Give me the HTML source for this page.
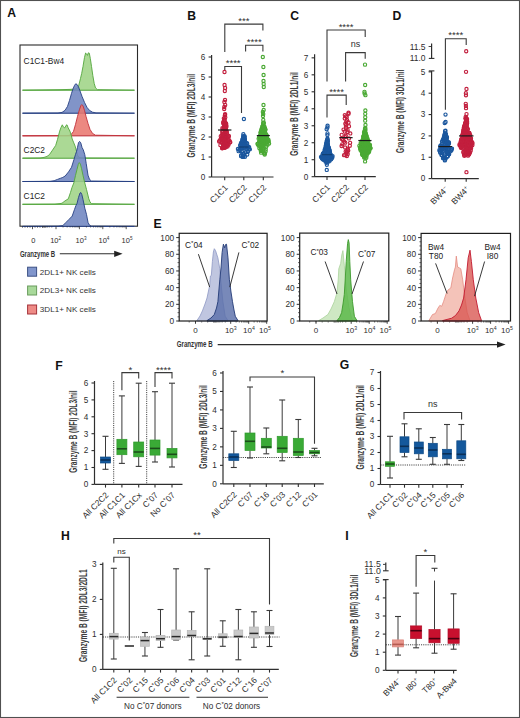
<!DOCTYPE html>
<html><head><meta charset="utf-8"><style>
html,body{margin:0;padding:0;background:#fff;width:520px;height:718px;overflow:hidden;}
svg{display:block;font-family:"Liberation Sans", sans-serif;}
</style></head><body>
<svg width="520" height="718" viewBox="0 0 520 718" font-family='"Liberation Sans", sans-serif'><rect x="0.5" y="0.5" width="519" height="717" fill="#fff" stroke="#505050" stroke-width="1.1"/>
<text x="7.30" y="17.30" font-size="12.2" text-anchor="start" fill="#111" font-weight="bold" >A</text>
<rect x="20" y="45" width="117.5" height="181.2" fill="none" stroke="#2a2a2a" stroke-width="1.1"/>
<defs><linearGradient id="gG" x1="0" x2="1" y1="0" y2="0"><stop offset="0" stop-color="#7fb86e"/><stop offset="0.55" stop-color="#8fb585"/><stop offset="1" stop-color="#d0d6cf"/></linearGradient><linearGradient id="gB" x1="0" x2="1" y1="0" y2="0"><stop offset="0" stop-color="#4a6196"/><stop offset="0.55" stop-color="#5b6d95"/><stop offset="1" stop-color="#c9ccd6"/></linearGradient><linearGradient id="gR" x1="0" x2="1" y1="0" y2="0"><stop offset="0" stop-color="#c9505a"/><stop offset="0.55" stop-color="#b76a72"/><stop offset="1" stop-color="#d8cccd"/></linearGradient></defs>
<rect x="22.5" y="89.80" width="112" height="0.8" fill="url(#gG)" fill-opacity="0.85"/>
<path d="M22.5,90.2 L60,89.7 L70,89.4 L76,88.9 L78.5,86.4 L80.5,78.4 L81.7,73.4 L83,66.4 L84.5,57.4 L85.6,53.0 L86.6,53.9 L87.5,55.4 L88.3,52.8 L89.3,53.199999999999996 L90.3,58.4 L91.5,66.4 L92.8,75.4 L94.2,83.4 L95.5,87.9 L97.5,89.7 L134.5,90.2 Z" fill="#9fd486" fill-opacity="0.88" stroke="#52a63c" stroke-width="0.9" stroke-linejoin="round"/>
<rect x="22.5" y="112.80" width="112" height="0.8" fill="url(#gB)" fill-opacity="0.85"/>
<path d="M22.5,113.2 L58,113.0 L62,112.4 L65,110.4 L67.5,106.4 L69.5,100.4 L71.5,93.4 L73,88.9 L74.5,85.4 L75.7,83.80000000000001 L77,84.4 L78.5,86.9 L80,90.9 L82,96.4 L84.5,102.4 L87,107.4 L89.5,110.4 L92.5,112.2 L96,112.9 L134.5,113.2 Z" fill="#7085c0" fill-opacity="0.88" stroke="#263f82" stroke-width="0.9" stroke-linejoin="round"/>
<rect x="22.5" y="135.40" width="112" height="0.8" fill="url(#gR)" fill-opacity="0.85"/>
<path d="M22.5,135.8 L68,135.6 L71,134.70000000000002 L73.5,131.4 L75.5,124.4 L77.5,116.4 L79.5,109.4 L81,105.4 L81.8,104.60000000000001 L83,105.9 L84.5,110.4 L86,116.4 L88,123.4 L90,129.4 L92.5,133.4 L95.5,135.20000000000002 L134.5,135.8 Z" fill="#e97870" fill-opacity="0.88" stroke="#c2303a" stroke-width="0.9" stroke-linejoin="round"/>
<rect x="22.5" y="157.80" width="112" height="0.8" fill="url(#gG)" fill-opacity="0.85"/>
<path d="M22.5,158.20000000000002 L40,158.0 L44,157.4 L47,156.4 L49.4,154.70000000000002 L52,150.9 L55.7,145.4 L57.5,139.4 L59.7,131.1 L61,127.4 L62.3,124.80000000000001 L63.5,127.2 L64.8,127.9 L66,125.4 L67,124.80000000000001 L68.2,127.9 L69.9,131.1 L71,134.4 L72.2,139.0 L73.8,142.9 L75.4,146.9 L76.8,152.4 L78,156.4 L80,157.70000000000002 L84,158.0 L134.5,158.20000000000002 Z" fill="#9fd486" fill-opacity="0.88" stroke="#52a63c" stroke-width="0.9" stroke-linejoin="round"/>
<rect x="22.5" y="181.10" width="112" height="0.8" fill="url(#gB)" fill-opacity="0.85"/>
<path d="M22.5,181.5 L50,181.3 L54.2,180.70000000000002 L57.5,179.4 L60.4,178.3 L62.8,177.4 L65.2,176.0 L68.5,171.9 L71.5,167.3 L74,159.4 L75.5,154.4 L76.5,151.6 L77.5,147.4 L78.6,142.4 L79.6,141.4 L80.8,142.9 L82,147.4 L83.3,149.9 L84.8,154.70000000000002 L86.2,163.4 L88,175.20000000000002 L89.5,179.4 L91.5,181.0 L134.5,181.5 Z" fill="#7085c0" fill-opacity="0.88" stroke="#263f82" stroke-width="0.9" stroke-linejoin="round"/>
<rect x="22.5" y="203.90" width="112" height="0.8" fill="url(#gG)" fill-opacity="0.85"/>
<path d="M22.5,204.3 L55,204.1 L60,203.6 L62,203.20000000000002 L65,200.9 L68.3,198.8 L70.5,192.4 L72,187.4 L73.8,183.0 L75.5,175.4 L77,169.4 L78.3,164.4 L79.3,162.6 L80.3,163.9 L81.5,168.4 L83,175.4 L84.8,183.0 L86.5,189.4 L88.8,198.8 L90,201.9 L91.5,203.70000000000002 L134.5,204.3 Z" fill="#9fd486" fill-opacity="0.88" stroke="#52a63c" stroke-width="0.9" stroke-linejoin="round"/>
<rect x="22.5" y="226.00" width="112" height="0.8" fill="url(#gB)" fill-opacity="0.85"/>
<path d="M22.5,226.4 L58,226.20000000000002 L62.8,225.6 L66,222.4 L69,219.4 L72.2,216.1 L74.5,209.4 L76,205.4 L77,203.5 L78.5,197.4 L80,193.0 L80.8,192.5 L81.8,194.4 L83,199.4 L84.8,208.20000000000002 L86.5,214.4 L88,222.4 L89.5,225.20000000000002 L91.5,226.20000000000002 L134.5,226.4 Z" fill="#7085c0" fill-opacity="0.88" stroke="#263f82" stroke-width="0.9" stroke-linejoin="round"/>
<text x="23.60" y="64.40" font-size="8.4" text-anchor="start" fill="#222" font-weight="normal" >C1C1-Bw4</text>
<text x="23.60" y="152.80" font-size="8.4" text-anchor="start" fill="#222" font-weight="normal" >C2C2</text>
<text x="23.60" y="199.10" font-size="8.4" text-anchor="start" fill="#222" font-weight="normal" >C1C2</text>
<line x1="56.00" y1="226.20" x2="56.00" y2="229.20" stroke="#2e2e2e" stroke-width="0.8" />
<line x1="63.04" y1="226.20" x2="63.04" y2="227.52" stroke="#2e2e2e" stroke-width="0.6" />
<line x1="67.16" y1="226.20" x2="67.16" y2="227.52" stroke="#2e2e2e" stroke-width="0.6" />
<line x1="70.09" y1="226.20" x2="70.09" y2="227.52" stroke="#2e2e2e" stroke-width="0.6" />
<line x1="72.36" y1="226.20" x2="72.36" y2="227.52" stroke="#2e2e2e" stroke-width="0.6" />
<line x1="74.21" y1="226.20" x2="74.21" y2="227.52" stroke="#2e2e2e" stroke-width="0.6" />
<line x1="75.78" y1="226.20" x2="75.78" y2="227.52" stroke="#2e2e2e" stroke-width="0.6" />
<line x1="77.13" y1="226.20" x2="77.13" y2="227.52" stroke="#2e2e2e" stroke-width="0.6" />
<line x1="78.33" y1="226.20" x2="78.33" y2="227.52" stroke="#2e2e2e" stroke-width="0.6" />
<line x1="79.40" y1="226.20" x2="79.40" y2="229.20" stroke="#2e2e2e" stroke-width="0.8" />
<line x1="86.44" y1="226.20" x2="86.44" y2="227.52" stroke="#2e2e2e" stroke-width="0.6" />
<line x1="90.56" y1="226.20" x2="90.56" y2="227.52" stroke="#2e2e2e" stroke-width="0.6" />
<line x1="93.49" y1="226.20" x2="93.49" y2="227.52" stroke="#2e2e2e" stroke-width="0.6" />
<line x1="95.76" y1="226.20" x2="95.76" y2="227.52" stroke="#2e2e2e" stroke-width="0.6" />
<line x1="97.61" y1="226.20" x2="97.61" y2="227.52" stroke="#2e2e2e" stroke-width="0.6" />
<line x1="99.18" y1="226.20" x2="99.18" y2="227.52" stroke="#2e2e2e" stroke-width="0.6" />
<line x1="100.53" y1="226.20" x2="100.53" y2="227.52" stroke="#2e2e2e" stroke-width="0.6" />
<line x1="101.73" y1="226.20" x2="101.73" y2="227.52" stroke="#2e2e2e" stroke-width="0.6" />
<line x1="102.80" y1="226.20" x2="102.80" y2="229.20" stroke="#2e2e2e" stroke-width="0.8" />
<line x1="109.84" y1="226.20" x2="109.84" y2="227.52" stroke="#2e2e2e" stroke-width="0.6" />
<line x1="113.96" y1="226.20" x2="113.96" y2="227.52" stroke="#2e2e2e" stroke-width="0.6" />
<line x1="116.89" y1="226.20" x2="116.89" y2="227.52" stroke="#2e2e2e" stroke-width="0.6" />
<line x1="119.16" y1="226.20" x2="119.16" y2="227.52" stroke="#2e2e2e" stroke-width="0.6" />
<line x1="121.01" y1="226.20" x2="121.01" y2="227.52" stroke="#2e2e2e" stroke-width="0.6" />
<line x1="122.58" y1="226.20" x2="122.58" y2="227.52" stroke="#2e2e2e" stroke-width="0.6" />
<line x1="123.93" y1="226.20" x2="123.93" y2="227.52" stroke="#2e2e2e" stroke-width="0.6" />
<line x1="125.13" y1="226.20" x2="125.13" y2="227.52" stroke="#2e2e2e" stroke-width="0.6" />
<line x1="126.20" y1="226.20" x2="126.20" y2="229.20" stroke="#2e2e2e" stroke-width="0.8" />
<line x1="51.77" y1="226.20" x2="51.77" y2="227.52" stroke="#2e2e2e" stroke-width="0.6" />
<line x1="49.30" y1="226.20" x2="49.30" y2="227.52" stroke="#2e2e2e" stroke-width="0.6" />
<line x1="47.55" y1="226.20" x2="47.55" y2="227.52" stroke="#2e2e2e" stroke-width="0.6" />
<line x1="46.19" y1="226.20" x2="46.19" y2="227.52" stroke="#2e2e2e" stroke-width="0.6" />
<line x1="45.07" y1="226.20" x2="45.07" y2="227.52" stroke="#2e2e2e" stroke-width="0.6" />
<line x1="44.13" y1="226.20" x2="44.13" y2="227.52" stroke="#2e2e2e" stroke-width="0.6" />
<line x1="43.32" y1="226.20" x2="43.32" y2="227.52" stroke="#2e2e2e" stroke-width="0.6" />
<line x1="42.60" y1="226.20" x2="42.60" y2="227.52" stroke="#2e2e2e" stroke-width="0.6" />
<line x1="32.50" y1="226.20" x2="32.50" y2="229.20" stroke="#2e2e2e" stroke-width="0.8" />
<text x="33.40" y="243.20" font-size="7.5" text-anchor="middle" fill="#2e2e2e" font-weight="normal" >0</text>
<text x="50.20" y="243.20" font-size="7.5" fill="#2e2e2e">10<tspan dy="-3" font-size="4.65">2</tspan></text>
<text x="75.60" y="243.20" font-size="7.5" fill="#2e2e2e">10<tspan dy="-3" font-size="4.65">3</tspan></text>
<text x="98.50" y="243.20" font-size="7.5" fill="#2e2e2e">10<tspan dy="-3" font-size="4.65">4</tspan></text>
<text x="121.60" y="243.20" font-size="7.5" fill="#2e2e2e">10<tspan dy="-3" font-size="4.65">5</tspan></text>
<line x1="22.50" y1="226.20" x2="22.50" y2="227.80" stroke="#2e2e2e" stroke-width="0.6" />
<line x1="25.00" y1="226.20" x2="25.00" y2="227.80" stroke="#2e2e2e" stroke-width="0.6" />
<line x1="27.50" y1="226.20" x2="27.50" y2="227.80" stroke="#2e2e2e" stroke-width="0.6" />
<line x1="30.00" y1="226.20" x2="30.00" y2="227.80" stroke="#2e2e2e" stroke-width="0.6" />
<line x1="35.00" y1="226.20" x2="35.00" y2="227.80" stroke="#2e2e2e" stroke-width="0.6" />
<line x1="37.50" y1="226.20" x2="37.50" y2="227.80" stroke="#2e2e2e" stroke-width="0.6" />
<line x1="40.00" y1="226.20" x2="40.00" y2="227.80" stroke="#2e2e2e" stroke-width="0.6" />
<line x1="42.50" y1="226.20" x2="42.50" y2="227.80" stroke="#2e2e2e" stroke-width="0.6" />
<line x1="45.00" y1="226.20" x2="45.00" y2="227.80" stroke="#2e2e2e" stroke-width="0.6" />
<text x="19.9" y="256.6" font-size="9.4" font-weight="bold" fill="#333" textLength="35.3" lengthAdjust="spacingAndGlyphs">Granzyme B</text>
<line x1="59.80" y1="253.80" x2="116.00" y2="253.80" stroke="#2e2e2e" stroke-width="1.1" />
<path d="M114.2,250.7 L122.6,253.8 L114.2,256.9 Z" fill="#222"/>
<rect x="27.6" y="267.20" width="9" height="9" fill="#8196cc" stroke="#3d5285" stroke-width="1"/>
<text x="39.80" y="274.50" font-size="8.1" text-anchor="start" fill="#333" font-weight="normal" >2DL1+ NK cells</text>
<rect x="27.6" y="286.00" width="9" height="9" fill="#a8d99a" stroke="#6a9c5e" stroke-width="1"/>
<text x="39.80" y="293.30" font-size="8.1" text-anchor="start" fill="#333" font-weight="normal" >2DL3+ NK cells</text>
<rect x="27.6" y="305.00" width="9" height="9" fill="#ee8b86" stroke="#a5333b" stroke-width="1"/>
<text x="39.80" y="312.30" font-size="8.1" text-anchor="start" fill="#333" font-weight="normal" >3DL1+ NK cells</text>
<text x="187.30" y="20.20" font-size="12.2" text-anchor="start" fill="#111" font-weight="bold" >B</text>
<line x1="211.60" y1="55.00" x2="211.60" y2="177.00" stroke="#2e2e2e" stroke-width="1.2" />
<line x1="208.60" y1="177.00" x2="211.60" y2="177.00" stroke="#2e2e2e" stroke-width="1.1" />
<text x="205.40" y="179.87" font-size="8.2" text-anchor="end" fill="#2e2e2e" font-weight="normal" >0</text>
<line x1="208.60" y1="157.00" x2="211.60" y2="157.00" stroke="#2e2e2e" stroke-width="1.1" />
<text x="205.40" y="159.87" font-size="8.2" text-anchor="end" fill="#2e2e2e" font-weight="normal" >1</text>
<line x1="208.60" y1="137.00" x2="211.60" y2="137.00" stroke="#2e2e2e" stroke-width="1.1" />
<text x="205.40" y="139.87" font-size="8.2" text-anchor="end" fill="#2e2e2e" font-weight="normal" >2</text>
<line x1="208.60" y1="117.00" x2="211.60" y2="117.00" stroke="#2e2e2e" stroke-width="1.1" />
<text x="205.40" y="119.87" font-size="8.2" text-anchor="end" fill="#2e2e2e" font-weight="normal" >3</text>
<line x1="208.60" y1="97.00" x2="211.60" y2="97.00" stroke="#2e2e2e" stroke-width="1.1" />
<text x="205.40" y="99.87" font-size="8.2" text-anchor="end" fill="#2e2e2e" font-weight="normal" >4</text>
<line x1="208.60" y1="77.00" x2="211.60" y2="77.00" stroke="#2e2e2e" stroke-width="1.1" />
<text x="205.40" y="79.87" font-size="8.2" text-anchor="end" fill="#2e2e2e" font-weight="normal" >5</text>
<line x1="208.60" y1="57.00" x2="211.60" y2="57.00" stroke="#2e2e2e" stroke-width="1.1" />
<text x="205.40" y="59.87" font-size="8.2" text-anchor="end" fill="#2e2e2e" font-weight="normal" >6</text>
<line x1="211.60" y1="177.00" x2="273.50" y2="177.00" stroke="#2e2e2e" stroke-width="1.2" />
<line x1="224.70" y1="177.00" x2="224.70" y2="180.20" stroke="#2e2e2e" stroke-width="1.1" />
<line x1="243.80" y1="177.00" x2="243.80" y2="180.20" stroke="#2e2e2e" stroke-width="1.1" />
<line x1="263.30" y1="177.00" x2="263.30" y2="180.20" stroke="#2e2e2e" stroke-width="1.1" />
<text x="0" y="0" font-size="10.0" text-anchor="middle" font-weight="bold" fill="#3c3c3c" textLength="83.6" lengthAdjust="spacingAndGlyphs" transform="translate(195.30,115.80) rotate(-90)">Granzyme B (MFI) 2DL3/nil</text>
<text x="0" y="0" font-size="8.4" text-anchor="end" fill="#2e2e2e"  transform="translate(228.30,188.30) rotate(-45)">C1C1</text>
<text x="0" y="0" font-size="8.4" text-anchor="end" fill="#2e2e2e"  transform="translate(247.40,188.30) rotate(-45)">C2C2</text>
<text x="0" y="0" font-size="8.4" text-anchor="end" fill="#2e2e2e"  transform="translate(266.90,188.30) rotate(-45)">C1C2</text>
<g fill="none" stroke="#c21f3e" stroke-width="1.15"><circle cx="228.29" cy="144.08" r="1.6"/><circle cx="223.55" cy="128.19" r="1.6"/><circle cx="224.28" cy="136.13" r="1.6"/><circle cx="226.50" cy="131.88" r="1.6"/><circle cx="220.41" cy="145.15" r="1.6"/><circle cx="224.45" cy="125.34" r="1.6"/><circle cx="222.36" cy="128.25" r="1.6"/><circle cx="226.68" cy="137.34" r="1.6"/><circle cx="229.90" cy="142.07" r="1.6"/><circle cx="223.44" cy="122.11" r="1.6"/><circle cx="224.94" cy="147.76" r="1.6"/><circle cx="224.45" cy="119.73" r="1.6"/><circle cx="223.78" cy="142.31" r="1.6"/><circle cx="223.01" cy="147.57" r="1.6"/><circle cx="224.66" cy="137.52" r="1.6"/><circle cx="221.57" cy="141.98" r="1.6"/><circle cx="224.22" cy="142.27" r="1.6"/><circle cx="219.48" cy="140.81" r="1.6"/><circle cx="224.90" cy="125.26" r="1.6"/><circle cx="222.71" cy="132.16" r="1.6"/><circle cx="225.12" cy="114.05" r="1.6"/><circle cx="223.03" cy="144.41" r="1.6"/><circle cx="225.81" cy="129.67" r="1.6"/><circle cx="224.53" cy="119.92" r="1.6"/><circle cx="225.34" cy="125.58" r="1.6"/><circle cx="225.64" cy="140.53" r="1.6"/><circle cx="225.73" cy="123.13" r="1.6"/><circle cx="225.43" cy="135.88" r="1.6"/><circle cx="223.05" cy="147.29" r="1.6"/><circle cx="224.34" cy="126.92" r="1.6"/><circle cx="225.25" cy="143.20" r="1.6"/><circle cx="225.66" cy="130.28" r="1.6"/><circle cx="224.10" cy="138.97" r="1.6"/><circle cx="226.96" cy="135.80" r="1.6"/><circle cx="223.85" cy="135.48" r="1.6"/><circle cx="220.77" cy="136.27" r="1.6"/><circle cx="226.11" cy="146.89" r="1.6"/><circle cx="224.82" cy="115.59" r="1.6"/><circle cx="221.54" cy="138.55" r="1.6"/><circle cx="228.65" cy="135.96" r="1.6"/><circle cx="224.88" cy="127.95" r="1.6"/><circle cx="223.82" cy="124.22" r="1.6"/><circle cx="228.34" cy="135.67" r="1.6"/><circle cx="224.41" cy="133.99" r="1.6"/><circle cx="225.24" cy="141.24" r="1.6"/><circle cx="223.81" cy="118.33" r="1.6"/><circle cx="226.11" cy="127.45" r="1.6"/><circle cx="225.40" cy="122.93" r="1.6"/><circle cx="224.78" cy="126.45" r="1.6"/><circle cx="224.15" cy="134.43" r="1.6"/><circle cx="227.51" cy="146.38" r="1.6"/><circle cx="222.51" cy="134.20" r="1.6"/><circle cx="224.58" cy="135.90" r="1.6"/><circle cx="223.15" cy="139.37" r="1.6"/><circle cx="225.65" cy="135.03" r="1.6"/><circle cx="224.42" cy="133.02" r="1.6"/><circle cx="223.08" cy="147.62" r="1.6"/><circle cx="225.67" cy="143.11" r="1.6"/><circle cx="225.68" cy="124.19" r="1.6"/><circle cx="226.03" cy="126.93" r="1.6"/><circle cx="228.57" cy="141.53" r="1.6"/><circle cx="222.23" cy="131.23" r="1.6"/><circle cx="222.25" cy="148.30" r="1.6"/><circle cx="223.50" cy="128.49" r="1.6"/><circle cx="225.90" cy="144.71" r="1.6"/><circle cx="220.30" cy="139.64" r="1.6"/><circle cx="225.00" cy="143.49" r="1.6"/><circle cx="222.15" cy="143.30" r="1.6"/><circle cx="224.46" cy="130.00" r="1.6"/><circle cx="224.42" cy="140.13" r="1.6"/><circle cx="224.06" cy="147.86" r="1.6"/><circle cx="221.82" cy="137.92" r="1.6"/><circle cx="228.53" cy="144.73" r="1.6"/><circle cx="222.35" cy="135.76" r="1.6"/><circle cx="226.87" cy="133.21" r="1.6"/><circle cx="222.08" cy="148.03" r="1.6"/><circle cx="227.04" cy="143.79" r="1.6"/><circle cx="226.96" cy="143.48" r="1.6"/><circle cx="224.96" cy="131.07" r="1.6"/><circle cx="230.30" cy="142.23" r="1.6"/><circle cx="224.77" cy="126.91" r="1.6"/><circle cx="226.44" cy="142.18" r="1.6"/><circle cx="225.43" cy="138.52" r="1.6"/><circle cx="226.08" cy="140.14" r="1.6"/><circle cx="223.15" cy="146.28" r="1.6"/><circle cx="225.30" cy="117.34" r="1.6"/><circle cx="228.53" cy="140.46" r="1.6"/><circle cx="229.38" cy="140.38" r="1.6"/><circle cx="224.28" cy="128.90" r="1.6"/><circle cx="219.11" cy="141.59" r="1.6"/><circle cx="223.31" cy="123.32" r="1.6"/><circle cx="226.50" cy="126.03" r="1.6"/><circle cx="222.30" cy="134.19" r="1.6"/><circle cx="226.21" cy="123.86" r="1.6"/><circle cx="224.75" cy="130.25" r="1.6"/><circle cx="223.20" cy="138.90" r="1.6"/><circle cx="226.78" cy="142.53" r="1.6"/><circle cx="221.92" cy="137.64" r="1.6"/><circle cx="226.27" cy="144.85" r="1.6"/><circle cx="224.70" cy="140.68" r="1.6"/><circle cx="228.59" cy="140.06" r="1.6"/><circle cx="223.40" cy="122.20" r="1.6"/><circle cx="222.64" cy="142.62" r="1.6"/><circle cx="225.06" cy="115.03" r="1.6"/><circle cx="221.75" cy="139.76" r="1.6"/><circle cx="226.70" cy="131.18" r="1.6"/><circle cx="224.36" cy="120.21" r="1.6"/><circle cx="225.25" cy="123.13" r="1.6"/><circle cx="228.79" cy="136.40" r="1.6"/><circle cx="227.31" cy="141.95" r="1.6"/><circle cx="224.20" cy="109.00" r="1.6"/><circle cx="224.30" cy="107.00" r="1.6"/><circle cx="225.19" cy="105.00" r="1.6"/><circle cx="224.36" cy="102.00" r="1.6"/><circle cx="225.01" cy="100.00" r="1.6"/><circle cx="224.82" cy="91.00" r="1.6"/><circle cx="225.11" cy="88.00" r="1.6"/><circle cx="224.54" cy="85.00" r="1.6"/><circle cx="224.51" cy="72.00" r="1.6"/></g>
<g fill="none" stroke="#1b579e" stroke-width="1.15"><circle cx="244.74" cy="136.53" r="1.6"/><circle cx="241.06" cy="155.39" r="1.6"/><circle cx="244.89" cy="140.75" r="1.6"/><circle cx="242.30" cy="144.40" r="1.6"/><circle cx="244.76" cy="145.55" r="1.6"/><circle cx="240.58" cy="145.97" r="1.6"/><circle cx="242.51" cy="148.28" r="1.6"/><circle cx="247.17" cy="143.36" r="1.6"/><circle cx="243.90" cy="136.86" r="1.6"/><circle cx="241.05" cy="148.08" r="1.6"/><circle cx="241.12" cy="156.20" r="1.6"/><circle cx="241.71" cy="147.79" r="1.6"/><circle cx="248.89" cy="148.99" r="1.6"/><circle cx="244.43" cy="146.86" r="1.6"/><circle cx="238.60" cy="151.20" r="1.6"/><circle cx="239.34" cy="149.77" r="1.6"/><circle cx="249.14" cy="147.10" r="1.6"/><circle cx="241.35" cy="144.31" r="1.6"/><circle cx="244.83" cy="139.04" r="1.6"/><circle cx="246.48" cy="143.12" r="1.6"/><circle cx="245.55" cy="142.51" r="1.6"/><circle cx="249.89" cy="149.36" r="1.6"/><circle cx="243.13" cy="136.21" r="1.6"/><circle cx="245.14" cy="142.70" r="1.6"/><circle cx="244.15" cy="147.84" r="1.6"/><circle cx="248.50" cy="147.41" r="1.6"/><circle cx="247.40" cy="147.25" r="1.6"/><circle cx="248.65" cy="149.36" r="1.6"/><circle cx="243.67" cy="138.84" r="1.6"/><circle cx="247.86" cy="146.19" r="1.6"/><circle cx="243.71" cy="143.34" r="1.6"/><circle cx="241.93" cy="151.45" r="1.6"/><circle cx="241.38" cy="143.83" r="1.6"/><circle cx="243.07" cy="138.55" r="1.6"/><circle cx="243.21" cy="138.42" r="1.6"/><circle cx="244.23" cy="136.46" r="1.6"/><circle cx="243.99" cy="147.20" r="1.6"/><circle cx="244.52" cy="144.74" r="1.6"/><circle cx="240.27" cy="149.97" r="1.6"/><circle cx="248.43" cy="147.08" r="1.6"/><circle cx="240.12" cy="145.25" r="1.6"/><circle cx="244.91" cy="141.15" r="1.6"/><circle cx="242.82" cy="138.56" r="1.6"/><circle cx="240.98" cy="142.90" r="1.6"/><circle cx="241.96" cy="144.72" r="1.6"/><circle cx="247.84" cy="151.36" r="1.6"/><circle cx="243.98" cy="153.90" r="1.6"/><circle cx="242.71" cy="140.25" r="1.6"/><circle cx="247.79" cy="151.66" r="1.6"/><circle cx="246.46" cy="148.40" r="1.6"/><circle cx="243.05" cy="156.39" r="1.6"/><circle cx="245.48" cy="152.40" r="1.6"/><circle cx="247.22" cy="154.54" r="1.6"/><circle cx="244.96" cy="156.71" r="1.6"/><circle cx="242.63" cy="156.95" r="1.6"/><circle cx="242.06" cy="141.32" r="1.6"/><circle cx="245.71" cy="152.16" r="1.6"/><circle cx="237.91" cy="148.92" r="1.6"/><circle cx="243.35" cy="134.16" r="1.6"/><circle cx="242.91" cy="156.19" r="1.6"/><circle cx="245.94" cy="145.39" r="1.6"/><circle cx="242.43" cy="153.72" r="1.6"/><circle cx="243.52" cy="156.44" r="1.6"/><circle cx="245.24" cy="142.44" r="1.6"/><circle cx="244.64" cy="138.76" r="1.6"/><circle cx="244.64" cy="140.00" r="1.6"/><circle cx="240.68" cy="147.67" r="1.6"/><circle cx="242.34" cy="144.57" r="1.6"/><circle cx="243.38" cy="154.01" r="1.6"/><circle cx="242.37" cy="139.64" r="1.6"/><circle cx="243.90" cy="119.00" r="1.6"/></g>
<g fill="none" stroke="#4aa934" stroke-width="1.15"><circle cx="263.80" cy="145.16" r="1.6"/><circle cx="264.60" cy="142.47" r="1.6"/><circle cx="259.73" cy="136.86" r="1.6"/><circle cx="264.74" cy="153.45" r="1.6"/><circle cx="260.18" cy="144.68" r="1.6"/><circle cx="263.27" cy="120.03" r="1.6"/><circle cx="263.20" cy="130.46" r="1.6"/><circle cx="260.51" cy="136.52" r="1.6"/><circle cx="266.27" cy="136.62" r="1.6"/><circle cx="265.71" cy="139.28" r="1.6"/><circle cx="260.06" cy="135.67" r="1.6"/><circle cx="263.84" cy="133.16" r="1.6"/><circle cx="257.48" cy="143.80" r="1.6"/><circle cx="263.19" cy="129.30" r="1.6"/><circle cx="265.79" cy="134.34" r="1.6"/><circle cx="266.11" cy="134.48" r="1.6"/><circle cx="266.95" cy="141.97" r="1.6"/><circle cx="268.22" cy="140.97" r="1.6"/><circle cx="261.84" cy="128.73" r="1.6"/><circle cx="260.67" cy="147.80" r="1.6"/><circle cx="263.18" cy="123.73" r="1.6"/><circle cx="261.67" cy="136.83" r="1.6"/><circle cx="262.13" cy="139.64" r="1.6"/><circle cx="264.39" cy="142.83" r="1.6"/><circle cx="266.91" cy="137.87" r="1.6"/><circle cx="266.40" cy="135.38" r="1.6"/><circle cx="265.29" cy="129.68" r="1.6"/><circle cx="260.80" cy="135.67" r="1.6"/><circle cx="265.14" cy="129.51" r="1.6"/><circle cx="263.51" cy="127.52" r="1.6"/><circle cx="261.37" cy="134.49" r="1.6"/><circle cx="263.63" cy="130.65" r="1.6"/><circle cx="257.99" cy="144.14" r="1.6"/><circle cx="265.31" cy="129.78" r="1.6"/><circle cx="265.70" cy="149.39" r="1.6"/><circle cx="259.15" cy="141.67" r="1.6"/><circle cx="266.60" cy="143.95" r="1.6"/><circle cx="261.60" cy="128.99" r="1.6"/><circle cx="259.47" cy="137.14" r="1.6"/><circle cx="262.19" cy="134.35" r="1.6"/><circle cx="265.02" cy="128.64" r="1.6"/><circle cx="268.43" cy="139.68" r="1.6"/><circle cx="258.00" cy="143.63" r="1.6"/><circle cx="259.24" cy="137.50" r="1.6"/><circle cx="262.32" cy="146.13" r="1.6"/><circle cx="260.38" cy="137.24" r="1.6"/><circle cx="265.58" cy="151.42" r="1.6"/><circle cx="269.08" cy="143.55" r="1.6"/><circle cx="262.90" cy="127.91" r="1.6"/><circle cx="263.52" cy="140.64" r="1.6"/><circle cx="264.06" cy="136.39" r="1.6"/><circle cx="264.43" cy="138.46" r="1.6"/><circle cx="263.32" cy="125.51" r="1.6"/><circle cx="265.84" cy="141.25" r="1.6"/><circle cx="261.04" cy="145.17" r="1.6"/><circle cx="263.33" cy="122.59" r="1.6"/><circle cx="258.63" cy="138.71" r="1.6"/><circle cx="264.24" cy="141.57" r="1.6"/><circle cx="263.86" cy="152.85" r="1.6"/><circle cx="259.73" cy="136.69" r="1.6"/><circle cx="263.02" cy="136.82" r="1.6"/><circle cx="262.23" cy="135.46" r="1.6"/><circle cx="264.92" cy="134.69" r="1.6"/><circle cx="261.10" cy="152.69" r="1.6"/><circle cx="266.70" cy="135.54" r="1.6"/><circle cx="262.79" cy="144.86" r="1.6"/><circle cx="261.72" cy="137.67" r="1.6"/><circle cx="260.93" cy="142.58" r="1.6"/><circle cx="264.50" cy="142.48" r="1.6"/><circle cx="261.78" cy="143.82" r="1.6"/><circle cx="260.64" cy="132.71" r="1.6"/><circle cx="265.46" cy="138.23" r="1.6"/><circle cx="259.82" cy="143.62" r="1.6"/><circle cx="261.98" cy="131.65" r="1.6"/><circle cx="262.62" cy="146.38" r="1.6"/><circle cx="260.53" cy="134.94" r="1.6"/><circle cx="261.19" cy="143.39" r="1.6"/><circle cx="263.02" cy="130.58" r="1.6"/><circle cx="261.96" cy="129.72" r="1.6"/><circle cx="265.24" cy="143.10" r="1.6"/><circle cx="263.13" cy="128.46" r="1.6"/><circle cx="259.07" cy="145.46" r="1.6"/><circle cx="260.25" cy="139.14" r="1.6"/><circle cx="264.99" cy="131.55" r="1.6"/><circle cx="261.01" cy="146.48" r="1.6"/><circle cx="264.01" cy="131.53" r="1.6"/><circle cx="262.53" cy="131.57" r="1.6"/><circle cx="261.40" cy="148.00" r="1.6"/><circle cx="262.10" cy="131.99" r="1.6"/><circle cx="262.23" cy="142.92" r="1.6"/><circle cx="262.24" cy="141.48" r="1.6"/><circle cx="262.34" cy="126.68" r="1.6"/><circle cx="264.70" cy="154.48" r="1.6"/><circle cx="265.05" cy="128.68" r="1.6"/><circle cx="268.47" cy="141.18" r="1.6"/><circle cx="262.56" cy="126.31" r="1.6"/><circle cx="265.36" cy="133.55" r="1.6"/><circle cx="263.44" cy="135.89" r="1.6"/><circle cx="261.36" cy="144.05" r="1.6"/><circle cx="258.47" cy="145.40" r="1.6"/><circle cx="261.41" cy="137.77" r="1.6"/><circle cx="261.06" cy="131.43" r="1.6"/><circle cx="263.91" cy="127.57" r="1.6"/><circle cx="264.38" cy="126.51" r="1.6"/><circle cx="263.55" cy="127.76" r="1.6"/><circle cx="264.34" cy="153.45" r="1.6"/><circle cx="261.28" cy="146.79" r="1.6"/><circle cx="263.49" cy="135.90" r="1.6"/><circle cx="268.49" cy="141.60" r="1.6"/><circle cx="261.96" cy="137.19" r="1.6"/><circle cx="267.51" cy="144.83" r="1.6"/><circle cx="266.34" cy="140.29" r="1.6"/><circle cx="259.41" cy="142.81" r="1.6"/><circle cx="266.40" cy="139.03" r="1.6"/><circle cx="266.25" cy="146.80" r="1.6"/><circle cx="264.15" cy="126.62" r="1.6"/><circle cx="261.00" cy="130.95" r="1.6"/><circle cx="266.26" cy="136.78" r="1.6"/><circle cx="261.80" cy="151.03" r="1.6"/><circle cx="263.62" cy="144.48" r="1.6"/><circle cx="262.98" cy="141.41" r="1.6"/><circle cx="260.54" cy="132.57" r="1.6"/><circle cx="260.77" cy="150.80" r="1.6"/><circle cx="259.41" cy="148.15" r="1.6"/><circle cx="263.88" cy="122.90" r="1.6"/><circle cx="263.32" cy="149.48" r="1.6"/><circle cx="260.96" cy="143.51" r="1.6"/><circle cx="265.19" cy="142.82" r="1.6"/><circle cx="262.06" cy="137.82" r="1.6"/><circle cx="261.50" cy="146.28" r="1.6"/><circle cx="263.80" cy="148.18" r="1.6"/><circle cx="262.51" cy="134.42" r="1.6"/><circle cx="260.82" cy="149.72" r="1.6"/><circle cx="264.60" cy="142.40" r="1.6"/><circle cx="262.65" cy="132.37" r="1.6"/><circle cx="263.93" cy="131.74" r="1.6"/><circle cx="261.83" cy="141.24" r="1.6"/><circle cx="265.42" cy="139.88" r="1.6"/><circle cx="265.57" cy="141.46" r="1.6"/><circle cx="260.49" cy="140.63" r="1.6"/><circle cx="265.21" cy="139.00" r="1.6"/><circle cx="262.74" cy="150.05" r="1.6"/><circle cx="267.71" cy="141.35" r="1.6"/><circle cx="262.99" cy="125.77" r="1.6"/><circle cx="264.24" cy="127.85" r="1.6"/><circle cx="263.01" cy="116.00" r="1.6"/><circle cx="263.26" cy="114.00" r="1.6"/><circle cx="262.85" cy="112.00" r="1.6"/><circle cx="263.68" cy="110.00" r="1.6"/><circle cx="263.49" cy="105.00" r="1.6"/><circle cx="263.76" cy="87.00" r="1.6"/><circle cx="263.65" cy="84.00" r="1.6"/><circle cx="263.50" cy="81.00" r="1.6"/><circle cx="263.58" cy="75.00" r="1.6"/><circle cx="263.38" cy="67.00" r="1.6"/><circle cx="262.82" cy="57.00" r="1.6"/></g>
<line x1="218.00" y1="130.00" x2="231.40" y2="130.00" stroke="#1a1a1a" stroke-width="1.2" />
<line x1="239.00" y1="147.00" x2="248.50" y2="147.00" stroke="#123f73" stroke-width="1.2" />
<line x1="256.80" y1="135.60" x2="269.80" y2="135.60" stroke="#1a1a1a" stroke-width="1.2" />
<path d="M224.80,52.10 V24.10 H262.90 V30.50" fill="none" stroke="#3a3a3a" stroke-width="1.1"/>
<text x="243.85" y="23.62" font-size="9.6" text-anchor="middle" fill="#2e2e2e" font-weight="normal" >***</text>
<path d="M245.60,51.50 V45.20 H262.90 V51.50" fill="none" stroke="#3a3a3a" stroke-width="1.1"/>
<text x="254.25" y="44.72" font-size="9.6" text-anchor="middle" fill="#2e2e2e" font-weight="normal" >****</text>
<path d="M224.80,70.00 V66.50 H241.50 V113.00" fill="none" stroke="#3a3a3a" stroke-width="1.1"/>
<text x="233.15" y="65.92" font-size="9.6" text-anchor="middle" fill="#2e2e2e" font-weight="normal" >****</text>
<text x="290.20" y="20.30" font-size="12.2" text-anchor="start" fill="#111" font-weight="bold" >C</text>
<line x1="314.60" y1="54.20" x2="314.60" y2="176.70" stroke="#2e2e2e" stroke-width="1.2" />
<line x1="311.60" y1="176.70" x2="314.60" y2="176.70" stroke="#2e2e2e" stroke-width="1.1" />
<text x="308.40" y="179.57" font-size="8.2" text-anchor="end" fill="#2e2e2e" font-weight="normal" >0</text>
<line x1="311.60" y1="159.72" x2="314.60" y2="159.72" stroke="#2e2e2e" stroke-width="1.1" />
<text x="308.40" y="162.59" font-size="8.2" text-anchor="end" fill="#2e2e2e" font-weight="normal" >1</text>
<line x1="311.60" y1="142.74" x2="314.60" y2="142.74" stroke="#2e2e2e" stroke-width="1.1" />
<text x="308.40" y="145.61" font-size="8.2" text-anchor="end" fill="#2e2e2e" font-weight="normal" >2</text>
<line x1="311.60" y1="125.76" x2="314.60" y2="125.76" stroke="#2e2e2e" stroke-width="1.1" />
<text x="308.40" y="128.63" font-size="8.2" text-anchor="end" fill="#2e2e2e" font-weight="normal" >3</text>
<line x1="311.60" y1="108.78" x2="314.60" y2="108.78" stroke="#2e2e2e" stroke-width="1.1" />
<text x="308.40" y="111.65" font-size="8.2" text-anchor="end" fill="#2e2e2e" font-weight="normal" >4</text>
<line x1="311.60" y1="91.80" x2="314.60" y2="91.80" stroke="#2e2e2e" stroke-width="1.1" />
<text x="308.40" y="94.67" font-size="8.2" text-anchor="end" fill="#2e2e2e" font-weight="normal" >5</text>
<line x1="311.60" y1="74.82" x2="314.60" y2="74.82" stroke="#2e2e2e" stroke-width="1.1" />
<text x="308.40" y="77.69" font-size="8.2" text-anchor="end" fill="#2e2e2e" font-weight="normal" >6</text>
<line x1="311.60" y1="57.84" x2="314.60" y2="57.84" stroke="#2e2e2e" stroke-width="1.1" />
<text x="308.40" y="60.71" font-size="8.2" text-anchor="end" fill="#2e2e2e" font-weight="normal" >7</text>
<line x1="314.60" y1="176.70" x2="375.80" y2="176.70" stroke="#2e2e2e" stroke-width="1.2" />
<line x1="327.00" y1="176.70" x2="327.00" y2="179.90" stroke="#2e2e2e" stroke-width="1.1" />
<line x1="346.00" y1="176.70" x2="346.00" y2="179.90" stroke="#2e2e2e" stroke-width="1.1" />
<line x1="365.00" y1="176.70" x2="365.00" y2="179.90" stroke="#2e2e2e" stroke-width="1.1" />
<text x="0" y="0" font-size="10.0" text-anchor="middle" font-weight="bold" fill="#3c3c3c" textLength="83.7" lengthAdjust="spacingAndGlyphs" transform="translate(298.40,114.00) rotate(-90)">Granzyme B (MFI) 2DL1/nil</text>
<text x="0" y="0" font-size="8.4" text-anchor="end" fill="#2e2e2e"  transform="translate(330.60,188.00) rotate(-45)">C1C1</text>
<text x="0" y="0" font-size="8.4" text-anchor="end" fill="#2e2e2e"  transform="translate(349.60,188.00) rotate(-45)">C2C2</text>
<text x="0" y="0" font-size="8.4" text-anchor="end" fill="#2e2e2e"  transform="translate(368.60,188.00) rotate(-45)">C1C2</text>
<g fill="none" stroke="#1b579e" stroke-width="1.15"><circle cx="327.54" cy="154.15" r="1.6"/><circle cx="326.93" cy="143.79" r="1.6"/><circle cx="327.71" cy="153.29" r="1.6"/><circle cx="327.13" cy="157.83" r="1.6"/><circle cx="328.82" cy="151.21" r="1.6"/><circle cx="325.35" cy="159.34" r="1.6"/><circle cx="329.55" cy="159.41" r="1.6"/><circle cx="324.60" cy="149.99" r="1.6"/><circle cx="327.55" cy="140.62" r="1.6"/><circle cx="327.67" cy="150.77" r="1.6"/><circle cx="321.89" cy="158.23" r="1.6"/><circle cx="323.57" cy="152.96" r="1.6"/><circle cx="324.04" cy="157.75" r="1.6"/><circle cx="326.81" cy="160.98" r="1.6"/><circle cx="330.15" cy="154.33" r="1.6"/><circle cx="328.11" cy="153.11" r="1.6"/><circle cx="328.34" cy="153.42" r="1.6"/><circle cx="325.02" cy="154.07" r="1.6"/><circle cx="327.51" cy="138.73" r="1.6"/><circle cx="327.64" cy="146.56" r="1.6"/><circle cx="323.96" cy="156.10" r="1.6"/><circle cx="321.98" cy="156.45" r="1.6"/><circle cx="326.59" cy="148.43" r="1.6"/><circle cx="326.66" cy="146.38" r="1.6"/><circle cx="327.51" cy="142.21" r="1.6"/><circle cx="326.55" cy="162.83" r="1.6"/><circle cx="326.94" cy="144.33" r="1.6"/><circle cx="326.88" cy="140.77" r="1.6"/><circle cx="327.97" cy="159.79" r="1.6"/><circle cx="326.09" cy="148.14" r="1.6"/><circle cx="325.65" cy="159.48" r="1.6"/><circle cx="327.36" cy="141.87" r="1.6"/><circle cx="324.65" cy="158.89" r="1.6"/><circle cx="323.20" cy="159.21" r="1.6"/><circle cx="325.81" cy="147.69" r="1.6"/><circle cx="326.62" cy="152.45" r="1.6"/><circle cx="329.66" cy="157.74" r="1.6"/><circle cx="328.39" cy="158.66" r="1.6"/><circle cx="326.27" cy="158.92" r="1.6"/><circle cx="324.22" cy="157.44" r="1.6"/><circle cx="327.40" cy="141.45" r="1.6"/><circle cx="331.40" cy="156.25" r="1.6"/><circle cx="325.73" cy="157.47" r="1.6"/><circle cx="327.41" cy="146.16" r="1.6"/><circle cx="331.21" cy="159.22" r="1.6"/><circle cx="324.08" cy="157.43" r="1.6"/><circle cx="326.31" cy="148.28" r="1.6"/><circle cx="322.07" cy="156.35" r="1.6"/><circle cx="327.68" cy="159.42" r="1.6"/><circle cx="328.26" cy="157.05" r="1.6"/><circle cx="326.52" cy="155.32" r="1.6"/><circle cx="326.98" cy="142.15" r="1.6"/><circle cx="329.59" cy="152.19" r="1.6"/><circle cx="323.10" cy="157.86" r="1.6"/><circle cx="327.67" cy="144.39" r="1.6"/><circle cx="323.17" cy="156.97" r="1.6"/><circle cx="329.00" cy="149.03" r="1.6"/><circle cx="332.24" cy="157.66" r="1.6"/><circle cx="327.26" cy="145.30" r="1.6"/><circle cx="323.23" cy="154.61" r="1.6"/><circle cx="329.65" cy="160.70" r="1.6"/><circle cx="329.56" cy="157.11" r="1.6"/><circle cx="330.95" cy="156.87" r="1.6"/><circle cx="325.61" cy="151.81" r="1.6"/><circle cx="329.44" cy="157.96" r="1.6"/><circle cx="325.02" cy="159.89" r="1.6"/><circle cx="329.58" cy="152.45" r="1.6"/><circle cx="325.58" cy="151.50" r="1.6"/><circle cx="326.41" cy="144.06" r="1.6"/><circle cx="326.06" cy="161.53" r="1.6"/><circle cx="322.99" cy="154.25" r="1.6"/><circle cx="325.55" cy="157.95" r="1.6"/><circle cx="324.38" cy="152.23" r="1.6"/><circle cx="331.10" cy="155.46" r="1.6"/><circle cx="327.19" cy="140.76" r="1.6"/><circle cx="327.44" cy="150.04" r="1.6"/><circle cx="322.35" cy="158.51" r="1.6"/><circle cx="328.73" cy="161.47" r="1.6"/><circle cx="329.37" cy="149.84" r="1.6"/><circle cx="327.61" cy="161.32" r="1.6"/><circle cx="328.97" cy="153.69" r="1.6"/><circle cx="332.58" cy="156.05" r="1.6"/><circle cx="327.35" cy="159.74" r="1.6"/><circle cx="328.83" cy="149.08" r="1.6"/><circle cx="327.93" cy="149.08" r="1.6"/><circle cx="328.55" cy="147.79" r="1.6"/><circle cx="328.97" cy="155.60" r="1.6"/><circle cx="327.82" cy="144.67" r="1.6"/><circle cx="329.78" cy="154.67" r="1.6"/><circle cx="327.20" cy="145.89" r="1.6"/><circle cx="326.26" cy="151.30" r="1.6"/><circle cx="327.76" cy="152.05" r="1.6"/><circle cx="328.09" cy="159.63" r="1.6"/><circle cx="327.40" cy="139.47" r="1.6"/><circle cx="326.47" cy="149.27" r="1.6"/><circle cx="327.37" cy="149.13" r="1.6"/><circle cx="330.11" cy="154.33" r="1.6"/><circle cx="328.99" cy="159.55" r="1.6"/><circle cx="327.52" cy="160.99" r="1.6"/><circle cx="324.69" cy="153.71" r="1.6"/><circle cx="326.99" cy="149.89" r="1.6"/><circle cx="329.71" cy="151.49" r="1.6"/><circle cx="321.03" cy="156.88" r="1.6"/><circle cx="329.04" cy="156.29" r="1.6"/><circle cx="323.10" cy="157.58" r="1.6"/><circle cx="327.35" cy="144.49" r="1.6"/><circle cx="330.60" cy="154.31" r="1.6"/><circle cx="328.83" cy="155.94" r="1.6"/><circle cx="326.19" cy="157.63" r="1.6"/><circle cx="328.47" cy="147.47" r="1.6"/><circle cx="326.71" cy="145.36" r="1.6"/><circle cx="325.73" cy="152.05" r="1.6"/><circle cx="326.97" cy="158.58" r="1.6"/><circle cx="328.08" cy="146.65" r="1.6"/><circle cx="329.23" cy="149.63" r="1.6"/><circle cx="323.07" cy="156.61" r="1.6"/><circle cx="324.97" cy="154.18" r="1.6"/><circle cx="325.96" cy="157.42" r="1.6"/><circle cx="326.96" cy="151.29" r="1.6"/><circle cx="330.81" cy="156.10" r="1.6"/><circle cx="326.94" cy="140.64" r="1.6"/><circle cx="323.46" cy="159.75" r="1.6"/><circle cx="325.80" cy="145.60" r="1.6"/><circle cx="327.35" cy="149.68" r="1.6"/><circle cx="330.31" cy="156.18" r="1.6"/><circle cx="325.43" cy="161.42" r="1.6"/><circle cx="322.74" cy="154.11" r="1.6"/><circle cx="326.16" cy="146.85" r="1.6"/><circle cx="322.46" cy="158.50" r="1.6"/><circle cx="326.67" cy="151.23" r="1.6"/><circle cx="327.96" cy="151.21" r="1.6"/><circle cx="328.62" cy="147.43" r="1.6"/><circle cx="325.39" cy="150.17" r="1.6"/><circle cx="324.22" cy="153.80" r="1.6"/><circle cx="326.90" cy="161.84" r="1.6"/><circle cx="325.42" cy="149.57" r="1.6"/><circle cx="325.16" cy="156.67" r="1.6"/><circle cx="327.11" cy="149.92" r="1.6"/><circle cx="328.65" cy="151.49" r="1.6"/><circle cx="329.91" cy="155.01" r="1.6"/><circle cx="326.11" cy="144.47" r="1.6"/><circle cx="327.40" cy="143.44" r="1.6"/><circle cx="326.55" cy="158.68" r="1.6"/><circle cx="329.57" cy="151.29" r="1.6"/><circle cx="327.70" cy="155.25" r="1.6"/><circle cx="327.75" cy="145.39" r="1.6"/><circle cx="326.94" cy="142.91" r="1.6"/><circle cx="325.27" cy="150.81" r="1.6"/><circle cx="328.53" cy="149.41" r="1.6"/><circle cx="328.31" cy="151.00" r="1.6"/><circle cx="331.84" cy="157.43" r="1.6"/><circle cx="327.57" cy="140.76" r="1.6"/><circle cx="329.23" cy="152.82" r="1.6"/><circle cx="331.58" cy="156.03" r="1.6"/><circle cx="326.57" cy="146.12" r="1.6"/><circle cx="326.53" cy="159.58" r="1.6"/><circle cx="329.00" cy="152.60" r="1.6"/><circle cx="323.02" cy="153.61" r="1.6"/><circle cx="325.47" cy="147.39" r="1.6"/><circle cx="325.81" cy="147.62" r="1.6"/><circle cx="330.14" cy="155.83" r="1.6"/><circle cx="323.49" cy="158.50" r="1.6"/><circle cx="328.79" cy="153.15" r="1.6"/><circle cx="327.58" cy="146.57" r="1.6"/><circle cx="326.99" cy="142.84" r="1.6"/><circle cx="326.34" cy="142.67" r="1.6"/><circle cx="327.33" cy="157.33" r="1.6"/><circle cx="329.67" cy="156.44" r="1.6"/><circle cx="327.14" cy="151.05" r="1.6"/><circle cx="327.18" cy="146.46" r="1.6"/><circle cx="326.77" cy="169.91" r="1.6"/><circle cx="326.86" cy="164.81" r="1.6"/><circle cx="327.41" cy="135.10" r="1.6"/><circle cx="327.48" cy="133.40" r="1.6"/><circle cx="326.65" cy="129.16" r="1.6"/><circle cx="327.42" cy="127.46" r="1.6"/><circle cx="327.56" cy="125.76" r="1.6"/></g>
<g fill="none" stroke="#c21f3e" stroke-width="1.15"><circle cx="346.87" cy="156.08" r="1.6"/><circle cx="344.03" cy="155.20" r="1.6"/><circle cx="345.31" cy="155.10" r="1.6"/><circle cx="347.71" cy="154.02" r="1.6"/><circle cx="346.56" cy="152.75" r="1.6"/><circle cx="346.89" cy="152.00" r="1.6"/><circle cx="345.67" cy="151.52" r="1.6"/><circle cx="348.24" cy="150.58" r="1.6"/><circle cx="347.76" cy="149.74" r="1.6"/><circle cx="347.72" cy="148.77" r="1.6"/><circle cx="345.12" cy="147.53" r="1.6"/><circle cx="341.57" cy="146.02" r="1.6"/><circle cx="349.82" cy="145.82" r="1.6"/><circle cx="342.24" cy="144.35" r="1.6"/><circle cx="350.11" cy="142.83" r="1.6"/><circle cx="345.29" cy="142.69" r="1.6"/><circle cx="344.28" cy="141.62" r="1.6"/><circle cx="342.90" cy="140.07" r="1.6"/><circle cx="341.87" cy="138.93" r="1.6"/><circle cx="348.90" cy="138.39" r="1.6"/><circle cx="345.25" cy="137.07" r="1.6"/><circle cx="345.79" cy="135.79" r="1.6"/><circle cx="341.68" cy="134.90" r="1.6"/><circle cx="350.30" cy="133.45" r="1.6"/><circle cx="347.51" cy="132.09" r="1.6"/><circle cx="344.74" cy="131.60" r="1.6"/><circle cx="347.60" cy="130.13" r="1.6"/><circle cx="343.56" cy="129.59" r="1.6"/><circle cx="346.10" cy="128.20" r="1.6"/><circle cx="346.00" cy="126.60" r="1.6"/><circle cx="348.97" cy="126.25" r="1.6"/><circle cx="346.17" cy="124.68" r="1.6"/><circle cx="345.33" cy="123.73" r="1.6"/><circle cx="348.50" cy="122.40" r="1.6"/><circle cx="346.28" cy="121.52" r="1.6"/><circle cx="347.08" cy="120.27" r="1.6"/><circle cx="344.77" cy="118.43" r="1.6"/><circle cx="346.76" cy="117.06" r="1.6"/><circle cx="345.78" cy="116.31" r="1.6"/><circle cx="344.80" cy="115.10" r="1.6"/><circle cx="348.53" cy="113.78" r="1.6"/><circle cx="348.52" cy="112.72" r="1.6"/></g>
<g fill="none" stroke="#4aa934" stroke-width="1.15"><circle cx="367.03" cy="149.04" r="1.6"/><circle cx="367.55" cy="141.38" r="1.6"/><circle cx="362.38" cy="150.54" r="1.6"/><circle cx="362.54" cy="151.46" r="1.6"/><circle cx="362.63" cy="140.23" r="1.6"/><circle cx="362.14" cy="144.41" r="1.6"/><circle cx="364.21" cy="148.38" r="1.6"/><circle cx="365.48" cy="137.44" r="1.6"/><circle cx="364.07" cy="156.55" r="1.6"/><circle cx="368.32" cy="151.47" r="1.6"/><circle cx="366.53" cy="138.26" r="1.6"/><circle cx="366.15" cy="137.78" r="1.6"/><circle cx="365.65" cy="133.03" r="1.6"/><circle cx="368.83" cy="149.08" r="1.6"/><circle cx="367.74" cy="145.20" r="1.6"/><circle cx="364.34" cy="143.81" r="1.6"/><circle cx="364.13" cy="147.21" r="1.6"/><circle cx="360.50" cy="148.05" r="1.6"/><circle cx="366.43" cy="137.98" r="1.6"/><circle cx="365.27" cy="130.42" r="1.6"/><circle cx="367.38" cy="143.99" r="1.6"/><circle cx="366.53" cy="151.78" r="1.6"/><circle cx="361.28" cy="145.94" r="1.6"/><circle cx="365.23" cy="150.17" r="1.6"/><circle cx="364.56" cy="149.15" r="1.6"/><circle cx="364.09" cy="143.01" r="1.6"/><circle cx="364.92" cy="151.88" r="1.6"/><circle cx="362.20" cy="149.49" r="1.6"/><circle cx="363.68" cy="150.35" r="1.6"/><circle cx="366.06" cy="153.64" r="1.6"/><circle cx="364.77" cy="132.79" r="1.6"/><circle cx="367.89" cy="140.59" r="1.6"/><circle cx="362.90" cy="154.85" r="1.6"/><circle cx="366.71" cy="138.36" r="1.6"/><circle cx="362.24" cy="142.34" r="1.6"/><circle cx="369.42" cy="146.43" r="1.6"/><circle cx="366.07" cy="135.81" r="1.6"/><circle cx="368.55" cy="150.16" r="1.6"/><circle cx="367.72" cy="147.04" r="1.6"/><circle cx="369.11" cy="151.72" r="1.6"/><circle cx="366.95" cy="143.05" r="1.6"/><circle cx="366.20" cy="149.98" r="1.6"/><circle cx="365.83" cy="143.49" r="1.6"/><circle cx="367.81" cy="147.29" r="1.6"/><circle cx="362.52" cy="147.58" r="1.6"/><circle cx="366.71" cy="151.03" r="1.6"/><circle cx="362.77" cy="152.40" r="1.6"/><circle cx="365.99" cy="153.79" r="1.6"/><circle cx="365.41" cy="143.96" r="1.6"/><circle cx="364.66" cy="155.06" r="1.6"/><circle cx="360.05" cy="147.55" r="1.6"/><circle cx="366.33" cy="157.82" r="1.6"/><circle cx="363.34" cy="152.14" r="1.6"/><circle cx="366.08" cy="148.85" r="1.6"/><circle cx="364.78" cy="153.49" r="1.6"/><circle cx="369.17" cy="147.17" r="1.6"/><circle cx="364.48" cy="157.41" r="1.6"/><circle cx="369.98" cy="145.03" r="1.6"/><circle cx="364.74" cy="144.68" r="1.6"/><circle cx="363.46" cy="141.70" r="1.6"/><circle cx="365.01" cy="155.43" r="1.6"/><circle cx="365.72" cy="134.87" r="1.6"/><circle cx="367.02" cy="149.05" r="1.6"/><circle cx="363.98" cy="137.08" r="1.6"/><circle cx="363.70" cy="143.35" r="1.6"/><circle cx="362.72" cy="149.32" r="1.6"/><circle cx="363.50" cy="150.15" r="1.6"/><circle cx="364.42" cy="155.10" r="1.6"/><circle cx="366.92" cy="153.18" r="1.6"/><circle cx="360.63" cy="143.13" r="1.6"/><circle cx="363.24" cy="139.24" r="1.6"/><circle cx="365.59" cy="145.31" r="1.6"/><circle cx="362.47" cy="147.72" r="1.6"/><circle cx="360.77" cy="146.08" r="1.6"/><circle cx="363.46" cy="136.61" r="1.6"/><circle cx="363.67" cy="137.86" r="1.6"/><circle cx="363.70" cy="148.23" r="1.6"/><circle cx="363.00" cy="155.34" r="1.6"/><circle cx="364.28" cy="147.26" r="1.6"/><circle cx="366.82" cy="136.16" r="1.6"/><circle cx="365.21" cy="154.84" r="1.6"/><circle cx="367.60" cy="151.92" r="1.6"/><circle cx="369.67" cy="147.89" r="1.6"/><circle cx="361.35" cy="144.16" r="1.6"/><circle cx="364.23" cy="157.51" r="1.6"/><circle cx="363.64" cy="136.45" r="1.6"/><circle cx="363.60" cy="145.34" r="1.6"/><circle cx="368.68" cy="147.52" r="1.6"/><circle cx="367.23" cy="149.94" r="1.6"/><circle cx="368.32" cy="141.76" r="1.6"/><circle cx="369.29" cy="144.62" r="1.6"/><circle cx="365.85" cy="145.98" r="1.6"/><circle cx="367.87" cy="142.71" r="1.6"/><circle cx="363.73" cy="135.38" r="1.6"/><circle cx="365.30" cy="151.71" r="1.6"/><circle cx="365.17" cy="138.18" r="1.6"/><circle cx="370.34" cy="148.30" r="1.6"/><circle cx="360.23" cy="148.33" r="1.6"/><circle cx="362.07" cy="154.46" r="1.6"/><circle cx="362.43" cy="140.40" r="1.6"/><circle cx="367.47" cy="140.65" r="1.6"/><circle cx="365.31" cy="127.94" r="1.6"/><circle cx="366.44" cy="146.25" r="1.6"/><circle cx="365.98" cy="137.57" r="1.6"/><circle cx="368.00" cy="148.46" r="1.6"/><circle cx="363.46" cy="152.48" r="1.6"/><circle cx="364.97" cy="129.00" r="1.6"/><circle cx="368.16" cy="148.87" r="1.6"/><circle cx="359.35" cy="145.82" r="1.6"/><circle cx="363.75" cy="155.57" r="1.6"/><circle cx="370.25" cy="147.74" r="1.6"/><circle cx="368.78" cy="149.26" r="1.6"/><circle cx="364.65" cy="136.94" r="1.6"/><circle cx="365.31" cy="129.49" r="1.6"/><circle cx="362.42" cy="145.25" r="1.6"/><circle cx="369.50" cy="145.64" r="1.6"/><circle cx="361.97" cy="144.32" r="1.6"/><circle cx="364.70" cy="147.03" r="1.6"/><circle cx="365.72" cy="150.43" r="1.6"/><circle cx="366.75" cy="155.30" r="1.6"/><circle cx="361.19" cy="150.70" r="1.6"/><circle cx="363.27" cy="143.34" r="1.6"/><circle cx="364.99" cy="135.85" r="1.6"/><circle cx="368.40" cy="144.59" r="1.6"/><circle cx="367.51" cy="149.93" r="1.6"/><circle cx="364.43" cy="142.13" r="1.6"/><circle cx="364.05" cy="132.45" r="1.6"/><circle cx="363.58" cy="136.65" r="1.6"/><circle cx="363.47" cy="137.37" r="1.6"/><circle cx="365.00" cy="154.40" r="1.6"/><circle cx="364.34" cy="134.20" r="1.6"/><circle cx="366.16" cy="145.21" r="1.6"/><circle cx="365.33" cy="149.33" r="1.6"/><circle cx="364.81" cy="156.98" r="1.6"/><circle cx="364.05" cy="139.60" r="1.6"/><circle cx="360.35" cy="149.80" r="1.6"/><circle cx="364.49" cy="141.01" r="1.6"/><circle cx="365.71" cy="134.72" r="1.6"/><circle cx="368.24" cy="152.75" r="1.6"/><circle cx="365.82" cy="133.92" r="1.6"/><circle cx="365.83" cy="137.63" r="1.6"/><circle cx="366.11" cy="140.54" r="1.6"/><circle cx="362.82" cy="143.30" r="1.6"/><circle cx="366.96" cy="151.81" r="1.6"/><circle cx="361.07" cy="143.19" r="1.6"/><circle cx="365.89" cy="142.28" r="1.6"/><circle cx="367.84" cy="144.77" r="1.6"/><circle cx="364.56" cy="136.17" r="1.6"/><circle cx="365.00" cy="138.12" r="1.6"/><circle cx="364.20" cy="143.66" r="1.6"/><circle cx="364.86" cy="133.87" r="1.6"/><circle cx="364.65" cy="132.86" r="1.6"/><circle cx="368.10" cy="141.64" r="1.6"/><circle cx="364.09" cy="141.39" r="1.6"/><circle cx="364.85" cy="153.48" r="1.6"/><circle cx="368.77" cy="146.41" r="1.6"/><circle cx="367.66" cy="138.96" r="1.6"/><circle cx="363.98" cy="145.86" r="1.6"/><circle cx="367.35" cy="143.81" r="1.6"/><circle cx="362.94" cy="153.41" r="1.6"/><circle cx="363.44" cy="151.49" r="1.6"/><circle cx="370.42" cy="148.29" r="1.6"/><circle cx="369.39" cy="150.06" r="1.6"/><circle cx="361.60" cy="148.38" r="1.6"/><circle cx="364.32" cy="131.42" r="1.6"/><circle cx="361.97" cy="152.38" r="1.6"/><circle cx="364.23" cy="153.87" r="1.6"/><circle cx="361.52" cy="149.97" r="1.6"/><circle cx="365.84" cy="156.45" r="1.6"/><circle cx="363.35" cy="154.58" r="1.6"/><circle cx="365.08" cy="161.42" r="1.6"/><circle cx="365.46" cy="124.91" r="1.6"/><circle cx="365.19" cy="120.67" r="1.6"/><circle cx="365.25" cy="117.27" r="1.6"/><circle cx="365.24" cy="113.87" r="1.6"/><circle cx="365.36" cy="110.48" r="1.6"/><circle cx="365.42" cy="95.20" r="1.6"/><circle cx="364.59" cy="93.50" r="1.6"/><circle cx="364.46" cy="91.80" r="1.6"/><circle cx="365.15" cy="85.01" r="1.6"/><circle cx="365.02" cy="64.63" r="1.6"/></g>
<line x1="322.00" y1="154.63" x2="332.00" y2="154.63" stroke="#123f73" stroke-width="1.2" />
<line x1="339.20" y1="137.65" x2="352.60" y2="137.65" stroke="#1a1a1a" stroke-width="1.2" />
<line x1="358.30" y1="140.53" x2="371.50" y2="140.53" stroke="#1a1a1a" stroke-width="1.2" />
<path d="M327.00,81.40 V30.00 H365.20 V37.00" fill="none" stroke="#3a3a3a" stroke-width="1.1"/>
<text x="346.10" y="29.92" font-size="9.6" text-anchor="middle" fill="#2e2e2e" font-weight="normal" >****</text>
<path d="M345.60,81.40 V52.60 H365.20 V58.80" fill="none" stroke="#3a3a3a" stroke-width="1.1"/>
<text x="355.40" y="47.43" font-size="9.0" text-anchor="middle" fill="#2e2e2e" font-weight="normal" >ns</text>
<path d="M327.00,117.60 V95.10 H346.20 V105.10" fill="none" stroke="#3a3a3a" stroke-width="1.1"/>
<text x="336.60" y="95.02" font-size="9.6" text-anchor="middle" fill="#2e2e2e" font-weight="normal" >****</text>
<text x="392.60" y="19.80" font-size="12.2" text-anchor="start" fill="#111" font-weight="bold" >D</text>
<line x1="431.60" y1="70.90" x2="431.60" y2="178.60" stroke="#2e2e2e" stroke-width="1.2" />
<line x1="428.60" y1="178.60" x2="431.60" y2="178.60" stroke="#2e2e2e" stroke-width="1.1" />
<text x="425.40" y="181.47" font-size="8.2" text-anchor="end" fill="#2e2e2e" font-weight="normal" >0</text>
<line x1="428.60" y1="157.25" x2="431.60" y2="157.25" stroke="#2e2e2e" stroke-width="1.1" />
<text x="425.40" y="160.12" font-size="8.2" text-anchor="end" fill="#2e2e2e" font-weight="normal" >1</text>
<line x1="428.60" y1="135.90" x2="431.60" y2="135.90" stroke="#2e2e2e" stroke-width="1.1" />
<text x="425.40" y="138.77" font-size="8.2" text-anchor="end" fill="#2e2e2e" font-weight="normal" >2</text>
<line x1="428.60" y1="114.55" x2="431.60" y2="114.55" stroke="#2e2e2e" stroke-width="1.1" />
<text x="425.40" y="117.42" font-size="8.2" text-anchor="end" fill="#2e2e2e" font-weight="normal" >3</text>
<line x1="428.60" y1="93.20" x2="431.60" y2="93.20" stroke="#2e2e2e" stroke-width="1.1" />
<text x="425.40" y="96.07" font-size="8.2" text-anchor="end" fill="#2e2e2e" font-weight="normal" >4</text>
<line x1="428.60" y1="71.85" x2="431.60" y2="71.85" stroke="#2e2e2e" stroke-width="1.1" />
<text x="425.40" y="74.72" font-size="8.2" text-anchor="end" fill="#2e2e2e" font-weight="normal" >5</text>
<line x1="428.80" y1="70.90" x2="434.40" y2="70.90" stroke="#2e2e2e" stroke-width="1.1" />
<line x1="431.60" y1="43.50" x2="431.60" y2="58.40" stroke="#2e2e2e" stroke-width="1.2" />
<line x1="428.60" y1="46.50" x2="431.60" y2="46.50" stroke="#2e2e2e" stroke-width="0.9" />
<line x1="428.80" y1="58.40" x2="434.40" y2="58.40" stroke="#2e2e2e" stroke-width="1.1" />
<text x="425.60" y="49.50" font-size="8.5" text-anchor="end" fill="#2e2e2e" font-weight="normal" >11.5</text>
<text x="425.60" y="61.40" font-size="8.5" text-anchor="end" fill="#2e2e2e" font-weight="normal" >11.0</text>
<line x1="431.60" y1="178.60" x2="478.80" y2="178.60" stroke="#2e2e2e" stroke-width="1.2" />
<line x1="445.20" y1="178.60" x2="445.20" y2="181.80" stroke="#2e2e2e" stroke-width="1.1" />
<line x1="466.20" y1="178.60" x2="466.20" y2="181.80" stroke="#2e2e2e" stroke-width="1.1" />
<text x="0" y="0" font-size="10.0" text-anchor="middle" font-weight="bold" fill="#3c3c3c" textLength="83.2" lengthAdjust="spacingAndGlyphs" transform="translate(404.00,111.30) rotate(-90)">Granzyme B (MFI) 3DL1/nil</text>
<text x="0" y="0" font-size="8.4" text-anchor="end" fill="#2e2e2e"  transform="translate(448.80,189.90) rotate(-45)">BW4<tspan dy="-3" font-size="5.5">−</tspan></text>
<text x="0" y="0" font-size="8.4" text-anchor="end" fill="#2e2e2e"  transform="translate(469.80,189.90) rotate(-45)">BW4<tspan dy="-3" font-size="5.5">+</tspan></text>
<g fill="none" stroke="#1b579e" stroke-width="1.15"><circle cx="447.12" cy="153.29" r="1.6"/><circle cx="445.01" cy="144.48" r="1.6"/><circle cx="448.47" cy="152.11" r="1.6"/><circle cx="445.27" cy="140.37" r="1.6"/><circle cx="442.05" cy="146.95" r="1.6"/><circle cx="444.83" cy="160.38" r="1.6"/><circle cx="440.75" cy="145.47" r="1.6"/><circle cx="443.60" cy="140.76" r="1.6"/><circle cx="439.95" cy="151.75" r="1.6"/><circle cx="445.46" cy="130.72" r="1.6"/><circle cx="445.68" cy="138.26" r="1.6"/><circle cx="444.20" cy="157.78" r="1.6"/><circle cx="440.56" cy="147.08" r="1.6"/><circle cx="444.89" cy="134.93" r="1.6"/><circle cx="448.34" cy="153.55" r="1.6"/><circle cx="449.12" cy="154.36" r="1.6"/><circle cx="445.87" cy="147.84" r="1.6"/><circle cx="445.00" cy="149.66" r="1.6"/><circle cx="440.30" cy="152.76" r="1.6"/><circle cx="444.04" cy="138.58" r="1.6"/><circle cx="443.37" cy="141.12" r="1.6"/><circle cx="445.95" cy="133.88" r="1.6"/><circle cx="446.99" cy="141.78" r="1.6"/><circle cx="447.59" cy="145.56" r="1.6"/><circle cx="444.98" cy="154.43" r="1.6"/><circle cx="443.63" cy="139.81" r="1.6"/><circle cx="446.38" cy="136.37" r="1.6"/><circle cx="443.34" cy="148.56" r="1.6"/><circle cx="443.72" cy="147.87" r="1.6"/><circle cx="445.07" cy="131.28" r="1.6"/><circle cx="443.00" cy="158.20" r="1.6"/><circle cx="448.94" cy="142.67" r="1.6"/><circle cx="445.10" cy="147.11" r="1.6"/><circle cx="447.94" cy="146.13" r="1.6"/><circle cx="446.43" cy="151.98" r="1.6"/><circle cx="446.54" cy="146.02" r="1.6"/><circle cx="441.75" cy="152.91" r="1.6"/><circle cx="450.88" cy="149.57" r="1.6"/><circle cx="446.49" cy="149.60" r="1.6"/><circle cx="440.17" cy="150.30" r="1.6"/><circle cx="447.49" cy="156.33" r="1.6"/><circle cx="444.41" cy="141.21" r="1.6"/><circle cx="446.66" cy="143.45" r="1.6"/><circle cx="446.86" cy="137.39" r="1.6"/><circle cx="451.98" cy="148.60" r="1.6"/><circle cx="445.39" cy="134.37" r="1.6"/><circle cx="445.16" cy="137.97" r="1.6"/><circle cx="441.74" cy="149.11" r="1.6"/><circle cx="443.80" cy="138.23" r="1.6"/><circle cx="447.47" cy="156.19" r="1.6"/><circle cx="445.09" cy="141.29" r="1.6"/><circle cx="442.95" cy="139.51" r="1.6"/><circle cx="442.70" cy="151.23" r="1.6"/><circle cx="440.71" cy="148.39" r="1.6"/><circle cx="443.99" cy="156.18" r="1.6"/><circle cx="446.95" cy="137.37" r="1.6"/><circle cx="445.05" cy="142.00" r="1.6"/><circle cx="450.62" cy="151.35" r="1.6"/><circle cx="447.83" cy="146.58" r="1.6"/><circle cx="443.61" cy="158.11" r="1.6"/><circle cx="446.67" cy="139.47" r="1.6"/><circle cx="445.61" cy="138.04" r="1.6"/><circle cx="446.29" cy="148.29" r="1.6"/><circle cx="444.29" cy="139.12" r="1.6"/><circle cx="442.66" cy="146.42" r="1.6"/><circle cx="442.01" cy="141.44" r="1.6"/><circle cx="448.96" cy="143.41" r="1.6"/><circle cx="445.69" cy="158.42" r="1.6"/><circle cx="448.41" cy="144.30" r="1.6"/><circle cx="442.69" cy="145.49" r="1.6"/><circle cx="451.57" cy="148.62" r="1.6"/><circle cx="443.93" cy="137.12" r="1.6"/><circle cx="441.83" cy="155.28" r="1.6"/><circle cx="444.92" cy="158.30" r="1.6"/><circle cx="448.71" cy="153.92" r="1.6"/><circle cx="441.88" cy="144.06" r="1.6"/><circle cx="443.22" cy="146.34" r="1.6"/><circle cx="441.79" cy="147.14" r="1.6"/><circle cx="441.99" cy="153.27" r="1.6"/><circle cx="448.08" cy="149.07" r="1.6"/><circle cx="440.19" cy="146.14" r="1.6"/><circle cx="448.09" cy="142.83" r="1.6"/><circle cx="447.06" cy="141.28" r="1.6"/><circle cx="445.07" cy="159.73" r="1.6"/><circle cx="447.11" cy="156.42" r="1.6"/><circle cx="447.39" cy="153.04" r="1.6"/><circle cx="447.53" cy="151.33" r="1.6"/><circle cx="439.34" cy="150.18" r="1.6"/><circle cx="442.56" cy="148.89" r="1.6"/><circle cx="444.47" cy="137.31" r="1.6"/><circle cx="445.79" cy="146.98" r="1.6"/><circle cx="444.22" cy="135.14" r="1.6"/><circle cx="445.28" cy="145.16" r="1.6"/><circle cx="448.58" cy="142.28" r="1.6"/><circle cx="447.74" cy="150.24" r="1.6"/><circle cx="445.90" cy="146.58" r="1.6"/><circle cx="447.48" cy="156.41" r="1.6"/><circle cx="444.95" cy="133.27" r="1.6"/><circle cx="451.54" cy="150.10" r="1.6"/><circle cx="441.52" cy="154.88" r="1.6"/><circle cx="444.69" cy="123.09" r="1.6"/><circle cx="445.58" cy="122.02" r="1.6"/><circle cx="445.51" cy="114.55" r="1.6"/></g>
<g fill="none" stroke="#c21f3e" stroke-width="1.15"><circle cx="465.48" cy="118.56" r="1.6"/><circle cx="469.08" cy="154.35" r="1.6"/><circle cx="461.70" cy="147.23" r="1.6"/><circle cx="464.99" cy="134.20" r="1.6"/><circle cx="465.28" cy="123.74" r="1.6"/><circle cx="465.84" cy="118.43" r="1.6"/><circle cx="469.97" cy="135.86" r="1.6"/><circle cx="469.27" cy="133.01" r="1.6"/><circle cx="463.11" cy="132.17" r="1.6"/><circle cx="466.52" cy="124.23" r="1.6"/><circle cx="461.97" cy="143.91" r="1.6"/><circle cx="466.55" cy="125.98" r="1.6"/><circle cx="466.87" cy="120.37" r="1.6"/><circle cx="466.33" cy="118.26" r="1.6"/><circle cx="466.99" cy="132.53" r="1.6"/><circle cx="472.34" cy="145.19" r="1.6"/><circle cx="470.03" cy="143.87" r="1.6"/><circle cx="466.52" cy="118.91" r="1.6"/><circle cx="469.71" cy="148.58" r="1.6"/><circle cx="463.82" cy="133.64" r="1.6"/><circle cx="466.44" cy="152.59" r="1.6"/><circle cx="468.92" cy="153.68" r="1.6"/><circle cx="466.38" cy="138.74" r="1.6"/><circle cx="468.13" cy="141.41" r="1.6"/><circle cx="465.64" cy="121.99" r="1.6"/><circle cx="467.24" cy="142.34" r="1.6"/><circle cx="467.53" cy="144.24" r="1.6"/><circle cx="465.55" cy="137.66" r="1.6"/><circle cx="466.41" cy="133.44" r="1.6"/><circle cx="470.71" cy="150.65" r="1.6"/><circle cx="465.32" cy="142.80" r="1.6"/><circle cx="471.40" cy="141.58" r="1.6"/><circle cx="466.23" cy="119.14" r="1.6"/><circle cx="461.30" cy="141.64" r="1.6"/><circle cx="465.11" cy="123.38" r="1.6"/><circle cx="464.74" cy="137.56" r="1.6"/><circle cx="464.29" cy="143.48" r="1.6"/><circle cx="460.63" cy="147.03" r="1.6"/><circle cx="469.12" cy="137.89" r="1.6"/><circle cx="463.84" cy="134.35" r="1.6"/><circle cx="463.02" cy="132.70" r="1.6"/><circle cx="470.13" cy="141.38" r="1.6"/><circle cx="466.09" cy="121.66" r="1.6"/><circle cx="466.19" cy="126.15" r="1.6"/><circle cx="467.05" cy="138.23" r="1.6"/><circle cx="466.50" cy="114.06" r="1.6"/><circle cx="468.68" cy="139.69" r="1.6"/><circle cx="465.03" cy="134.47" r="1.6"/><circle cx="467.94" cy="129.10" r="1.6"/><circle cx="470.01" cy="135.63" r="1.6"/><circle cx="466.20" cy="154.84" r="1.6"/><circle cx="464.90" cy="134.77" r="1.6"/><circle cx="468.42" cy="147.63" r="1.6"/><circle cx="463.53" cy="140.75" r="1.6"/><circle cx="469.47" cy="153.03" r="1.6"/><circle cx="461.25" cy="142.88" r="1.6"/><circle cx="463.12" cy="146.31" r="1.6"/><circle cx="464.96" cy="125.10" r="1.6"/><circle cx="460.65" cy="144.74" r="1.6"/><circle cx="462.99" cy="139.77" r="1.6"/><circle cx="469.27" cy="143.09" r="1.6"/><circle cx="467.11" cy="121.37" r="1.6"/><circle cx="465.37" cy="153.27" r="1.6"/><circle cx="464.23" cy="126.02" r="1.6"/><circle cx="466.08" cy="146.68" r="1.6"/><circle cx="469.32" cy="142.11" r="1.6"/><circle cx="465.96" cy="131.79" r="1.6"/><circle cx="462.63" cy="145.43" r="1.6"/><circle cx="460.29" cy="144.99" r="1.6"/><circle cx="463.60" cy="133.70" r="1.6"/><circle cx="466.70" cy="123.75" r="1.6"/><circle cx="466.19" cy="152.16" r="1.6"/><circle cx="462.23" cy="135.78" r="1.6"/><circle cx="461.17" cy="139.30" r="1.6"/><circle cx="463.34" cy="129.86" r="1.6"/><circle cx="470.17" cy="134.85" r="1.6"/><circle cx="465.06" cy="126.16" r="1.6"/><circle cx="462.64" cy="137.92" r="1.6"/><circle cx="470.97" cy="143.13" r="1.6"/><circle cx="463.83" cy="127.57" r="1.6"/><circle cx="467.95" cy="142.18" r="1.6"/><circle cx="469.73" cy="147.50" r="1.6"/><circle cx="466.37" cy="123.53" r="1.6"/><circle cx="470.66" cy="142.63" r="1.6"/><circle cx="463.01" cy="138.55" r="1.6"/><circle cx="461.50" cy="144.71" r="1.6"/><circle cx="466.24" cy="126.55" r="1.6"/><circle cx="468.43" cy="132.59" r="1.6"/><circle cx="465.68" cy="116.84" r="1.6"/><circle cx="470.71" cy="141.51" r="1.6"/><circle cx="465.54" cy="130.06" r="1.6"/><circle cx="463.83" cy="134.05" r="1.6"/><circle cx="461.12" cy="147.93" r="1.6"/><circle cx="462.90" cy="142.18" r="1.6"/><circle cx="470.97" cy="138.41" r="1.6"/><circle cx="466.84" cy="148.22" r="1.6"/><circle cx="466.59" cy="125.18" r="1.6"/><circle cx="468.88" cy="138.13" r="1.6"/><circle cx="468.72" cy="154.50" r="1.6"/><circle cx="468.41" cy="132.96" r="1.6"/><circle cx="464.32" cy="127.22" r="1.6"/><circle cx="463.55" cy="151.65" r="1.6"/><circle cx="470.75" cy="138.79" r="1.6"/><circle cx="465.93" cy="122.48" r="1.6"/><circle cx="468.20" cy="135.17" r="1.6"/><circle cx="472.45" cy="143.38" r="1.6"/><circle cx="466.74" cy="120.05" r="1.6"/><circle cx="467.16" cy="123.00" r="1.6"/><circle cx="464.80" cy="134.17" r="1.6"/><circle cx="462.57" cy="144.62" r="1.6"/><circle cx="469.53" cy="152.13" r="1.6"/><circle cx="459.61" cy="144.21" r="1.6"/><circle cx="460.82" cy="143.78" r="1.6"/><circle cx="464.29" cy="140.45" r="1.6"/><circle cx="465.93" cy="147.50" r="1.6"/><circle cx="464.46" cy="141.27" r="1.6"/><circle cx="465.25" cy="127.79" r="1.6"/><circle cx="469.89" cy="137.72" r="1.6"/><circle cx="465.95" cy="118.48" r="1.6"/><circle cx="469.32" cy="153.12" r="1.6"/><circle cx="463.31" cy="138.52" r="1.6"/><circle cx="463.49" cy="149.07" r="1.6"/><circle cx="461.27" cy="143.92" r="1.6"/><circle cx="469.86" cy="152.60" r="1.6"/><circle cx="464.36" cy="127.45" r="1.6"/><circle cx="469.45" cy="139.47" r="1.6"/><circle cx="461.72" cy="138.80" r="1.6"/><circle cx="464.63" cy="143.20" r="1.6"/><circle cx="466.44" cy="122.12" r="1.6"/><circle cx="467.66" cy="140.08" r="1.6"/><circle cx="467.57" cy="152.62" r="1.6"/><circle cx="467.05" cy="128.03" r="1.6"/><circle cx="463.46" cy="142.66" r="1.6"/><circle cx="464.36" cy="155.72" r="1.6"/><circle cx="465.68" cy="148.17" r="1.6"/><circle cx="464.63" cy="129.35" r="1.6"/><circle cx="467.69" cy="139.71" r="1.6"/><circle cx="462.25" cy="134.94" r="1.6"/><circle cx="466.44" cy="121.70" r="1.6"/><circle cx="462.61" cy="144.09" r="1.6"/><circle cx="469.31" cy="132.87" r="1.6"/><circle cx="464.85" cy="143.26" r="1.6"/><circle cx="463.12" cy="137.24" r="1.6"/><circle cx="471.24" cy="141.50" r="1.6"/><circle cx="469.27" cy="137.26" r="1.6"/><circle cx="471.18" cy="145.11" r="1.6"/><circle cx="464.70" cy="129.17" r="1.6"/><circle cx="468.01" cy="138.05" r="1.6"/><circle cx="467.14" cy="136.75" r="1.6"/><circle cx="466.90" cy="145.67" r="1.6"/><circle cx="470.05" cy="142.82" r="1.6"/><circle cx="472.25" cy="142.36" r="1.6"/><circle cx="463.73" cy="136.52" r="1.6"/><circle cx="461.78" cy="141.24" r="1.6"/><circle cx="463.33" cy="131.08" r="1.6"/><circle cx="464.54" cy="135.74" r="1.6"/><circle cx="464.12" cy="129.41" r="1.6"/><circle cx="467.77" cy="133.18" r="1.6"/><circle cx="461.42" cy="145.85" r="1.6"/><circle cx="468.08" cy="142.37" r="1.6"/><circle cx="459.58" cy="145.13" r="1.6"/><circle cx="469.74" cy="140.56" r="1.6"/><circle cx="471.14" cy="148.06" r="1.6"/><circle cx="462.69" cy="138.69" r="1.6"/><circle cx="464.97" cy="150.15" r="1.6"/><circle cx="462.67" cy="139.59" r="1.6"/><circle cx="466.21" cy="150.83" r="1.6"/><circle cx="465.46" cy="145.30" r="1.6"/><circle cx="468.43" cy="140.30" r="1.6"/><circle cx="463.72" cy="136.61" r="1.6"/><circle cx="470.41" cy="147.37" r="1.6"/><circle cx="463.38" cy="152.52" r="1.6"/><circle cx="468.93" cy="151.49" r="1.6"/><circle cx="470.34" cy="137.73" r="1.6"/><circle cx="464.84" cy="135.04" r="1.6"/><circle cx="468.91" cy="140.85" r="1.6"/><circle cx="470.11" cy="145.90" r="1.6"/><circle cx="460.69" cy="141.46" r="1.6"/><circle cx="466.99" cy="143.10" r="1.6"/><circle cx="470.62" cy="148.43" r="1.6"/><circle cx="466.23" cy="121.29" r="1.6"/><circle cx="466.79" cy="122.79" r="1.6"/><circle cx="462.84" cy="137.81" r="1.6"/><circle cx="467.09" cy="119.08" r="1.6"/><circle cx="464.90" cy="140.27" r="1.6"/><circle cx="467.22" cy="151.31" r="1.6"/><circle cx="465.74" cy="125.71" r="1.6"/><circle cx="467.78" cy="144.44" r="1.6"/><circle cx="464.46" cy="128.69" r="1.6"/><circle cx="468.18" cy="144.60" r="1.6"/><circle cx="468.41" cy="153.07" r="1.6"/><circle cx="470.70" cy="143.79" r="1.6"/><circle cx="462.44" cy="140.19" r="1.6"/><circle cx="464.11" cy="154.72" r="1.6"/><circle cx="469.67" cy="145.14" r="1.6"/><circle cx="466.89" cy="128.67" r="1.6"/><circle cx="468.45" cy="144.00" r="1.6"/><circle cx="465.35" cy="131.23" r="1.6"/><circle cx="465.93" cy="150.94" r="1.6"/><circle cx="462.25" cy="146.15" r="1.6"/><circle cx="460.96" cy="141.90" r="1.6"/><circle cx="465.48" cy="123.22" r="1.6"/><circle cx="466.97" cy="123.19" r="1.6"/><circle cx="467.99" cy="155.63" r="1.6"/><circle cx="466.33" cy="127.96" r="1.6"/><circle cx="466.12" cy="124.06" r="1.6"/><circle cx="464.14" cy="154.22" r="1.6"/><circle cx="471.08" cy="143.92" r="1.6"/><circle cx="464.44" cy="127.01" r="1.6"/><circle cx="461.15" cy="142.94" r="1.6"/><circle cx="464.30" cy="145.98" r="1.6"/><circle cx="462.03" cy="141.28" r="1.6"/><circle cx="464.21" cy="133.98" r="1.6"/><circle cx="466.14" cy="123.71" r="1.6"/><circle cx="469.30" cy="140.87" r="1.6"/><circle cx="466.01" cy="108.14" r="1.6"/><circle cx="465.91" cy="106.01" r="1.6"/><circle cx="465.75" cy="103.87" r="1.6"/><circle cx="465.95" cy="95.33" r="1.6"/><circle cx="465.88" cy="93.20" r="1.6"/><circle cx="466.48" cy="88.93" r="1.6"/><circle cx="466.03" cy="71.85" r="1.6"/><circle cx="466.45" cy="172.19" r="1.6"/></g>
<g fill="none" stroke="#c21f3e" stroke-width="1.15"><circle cx="466.20" cy="51.26" r="1.6"/></g>
<line x1="438.50" y1="146.57" x2="452.00" y2="146.57" stroke="#1a1a1a" stroke-width="1.2" />
<line x1="459.00" y1="135.90" x2="473.50" y2="135.90" stroke="#1a1a1a" stroke-width="1.2" />
<path d="M445.40,109.80 V38.80 H466.20 V45.00" fill="none" stroke="#3a3a3a" stroke-width="1.1"/>
<text x="455.80" y="38.42" font-size="9.6" text-anchor="middle" fill="#2e2e2e" font-weight="normal" >****</text>
<text x="153.40" y="228.00" font-size="12.2" text-anchor="start" fill="#111" font-weight="bold" >E</text>
<line x1="176.20" y1="321.00" x2="179.20" y2="321.00" stroke="#2e2e2e" stroke-width="1.0" />
<text x="174.20" y="323.90" font-size="8.3" text-anchor="end" fill="#2e2e2e" font-weight="normal" >0</text>
<line x1="177.50" y1="316.83" x2="179.20" y2="316.83" stroke="#2e2e2e" stroke-width="0.7" />
<line x1="177.50" y1="312.66" x2="179.20" y2="312.66" stroke="#2e2e2e" stroke-width="0.7" />
<line x1="177.50" y1="308.49" x2="179.20" y2="308.49" stroke="#2e2e2e" stroke-width="0.7" />
<line x1="176.20" y1="304.32" x2="179.20" y2="304.32" stroke="#2e2e2e" stroke-width="1.0" />
<text x="174.20" y="307.22" font-size="8.3" text-anchor="end" fill="#2e2e2e" font-weight="normal" >20</text>
<line x1="177.50" y1="300.15" x2="179.20" y2="300.15" stroke="#2e2e2e" stroke-width="0.7" />
<line x1="177.50" y1="295.98" x2="179.20" y2="295.98" stroke="#2e2e2e" stroke-width="0.7" />
<line x1="177.50" y1="291.81" x2="179.20" y2="291.81" stroke="#2e2e2e" stroke-width="0.7" />
<line x1="176.20" y1="287.64" x2="179.20" y2="287.64" stroke="#2e2e2e" stroke-width="1.0" />
<text x="174.20" y="290.54" font-size="8.3" text-anchor="end" fill="#2e2e2e" font-weight="normal" >40</text>
<line x1="177.50" y1="283.47" x2="179.20" y2="283.47" stroke="#2e2e2e" stroke-width="0.7" />
<line x1="177.50" y1="279.30" x2="179.20" y2="279.30" stroke="#2e2e2e" stroke-width="0.7" />
<line x1="177.50" y1="275.13" x2="179.20" y2="275.13" stroke="#2e2e2e" stroke-width="0.7" />
<line x1="176.20" y1="270.96" x2="179.20" y2="270.96" stroke="#2e2e2e" stroke-width="1.0" />
<text x="174.20" y="273.86" font-size="8.3" text-anchor="end" fill="#2e2e2e" font-weight="normal" >60</text>
<line x1="177.50" y1="266.79" x2="179.20" y2="266.79" stroke="#2e2e2e" stroke-width="0.7" />
<line x1="177.50" y1="262.62" x2="179.20" y2="262.62" stroke="#2e2e2e" stroke-width="0.7" />
<line x1="177.50" y1="258.45" x2="179.20" y2="258.45" stroke="#2e2e2e" stroke-width="0.7" />
<line x1="176.20" y1="254.28" x2="179.20" y2="254.28" stroke="#2e2e2e" stroke-width="1.0" />
<text x="174.20" y="257.18" font-size="8.3" text-anchor="end" fill="#2e2e2e" font-weight="normal" >80</text>
<line x1="177.50" y1="250.11" x2="179.20" y2="250.11" stroke="#2e2e2e" stroke-width="0.7" />
<line x1="177.50" y1="245.94" x2="179.20" y2="245.94" stroke="#2e2e2e" stroke-width="0.7" />
<line x1="177.50" y1="241.77" x2="179.20" y2="241.77" stroke="#2e2e2e" stroke-width="0.7" />
<line x1="176.20" y1="237.60" x2="179.20" y2="237.60" stroke="#2e2e2e" stroke-width="1.0" />
<text x="174.20" y="240.50" font-size="8.3" text-anchor="end" fill="#2e2e2e" font-weight="normal" >100</text>
<line x1="230.70" y1="321.00" x2="230.70" y2="323.80" stroke="#2e2e2e" stroke-width="0.9" />
<line x1="236.12" y1="321.00" x2="236.12" y2="322.60" stroke="#2e2e2e" stroke-width="0.6" />
<line x1="239.29" y1="321.00" x2="239.29" y2="322.60" stroke="#2e2e2e" stroke-width="0.6" />
<line x1="241.54" y1="321.00" x2="241.54" y2="322.60" stroke="#2e2e2e" stroke-width="0.6" />
<line x1="243.28" y1="321.00" x2="243.28" y2="322.60" stroke="#2e2e2e" stroke-width="0.6" />
<line x1="244.71" y1="321.00" x2="244.71" y2="322.60" stroke="#2e2e2e" stroke-width="0.6" />
<line x1="245.91" y1="321.00" x2="245.91" y2="322.60" stroke="#2e2e2e" stroke-width="0.6" />
<line x1="246.96" y1="321.00" x2="246.96" y2="322.60" stroke="#2e2e2e" stroke-width="0.6" />
<line x1="247.88" y1="321.00" x2="247.88" y2="322.60" stroke="#2e2e2e" stroke-width="0.6" />
<line x1="248.70" y1="321.00" x2="248.70" y2="323.80" stroke="#2e2e2e" stroke-width="0.9" />
<line x1="254.12" y1="321.00" x2="254.12" y2="322.60" stroke="#2e2e2e" stroke-width="0.6" />
<line x1="257.29" y1="321.00" x2="257.29" y2="322.60" stroke="#2e2e2e" stroke-width="0.6" />
<line x1="259.54" y1="321.00" x2="259.54" y2="322.60" stroke="#2e2e2e" stroke-width="0.6" />
<line x1="261.28" y1="321.00" x2="261.28" y2="322.60" stroke="#2e2e2e" stroke-width="0.6" />
<line x1="262.71" y1="321.00" x2="262.71" y2="322.60" stroke="#2e2e2e" stroke-width="0.6" />
<line x1="263.91" y1="321.00" x2="263.91" y2="322.60" stroke="#2e2e2e" stroke-width="0.6" />
<line x1="264.96" y1="321.00" x2="264.96" y2="322.60" stroke="#2e2e2e" stroke-width="0.6" />
<line x1="265.88" y1="321.00" x2="265.88" y2="322.60" stroke="#2e2e2e" stroke-width="0.6" />
<line x1="266.70" y1="321.00" x2="266.70" y2="323.80" stroke="#2e2e2e" stroke-width="0.9" />
<line x1="225.28" y1="321.00" x2="225.28" y2="322.60" stroke="#2e2e2e" stroke-width="0.6" />
<line x1="222.11" y1="321.00" x2="222.11" y2="322.60" stroke="#2e2e2e" stroke-width="0.6" />
<line x1="219.86" y1="321.00" x2="219.86" y2="322.60" stroke="#2e2e2e" stroke-width="0.6" />
<line x1="218.12" y1="321.00" x2="218.12" y2="322.60" stroke="#2e2e2e" stroke-width="0.6" />
<line x1="216.69" y1="321.00" x2="216.69" y2="322.60" stroke="#2e2e2e" stroke-width="0.6" />
<line x1="215.49" y1="321.00" x2="215.49" y2="322.60" stroke="#2e2e2e" stroke-width="0.6" />
<line x1="214.44" y1="321.00" x2="214.44" y2="322.60" stroke="#2e2e2e" stroke-width="0.6" />
<line x1="213.52" y1="321.00" x2="213.52" y2="322.60" stroke="#2e2e2e" stroke-width="0.6" />
<line x1="195.50" y1="321.00" x2="195.50" y2="322.60" stroke="#2e2e2e" stroke-width="0.6" />
<line x1="189.20" y1="321.00" x2="189.20" y2="322.60" stroke="#2e2e2e" stroke-width="0.6" />
<line x1="201.70" y1="321.00" x2="201.70" y2="322.60" stroke="#2e2e2e" stroke-width="0.6" />
<line x1="207.70" y1="321.00" x2="207.70" y2="322.60" stroke="#2e2e2e" stroke-width="0.6" />
<line x1="195.50" y1="321.00" x2="195.50" y2="323.80" stroke="#2e2e2e" stroke-width="0.9" />
<text x="195.50" y="333.20" font-size="8.0" text-anchor="middle" fill="#2e2e2e" font-weight="normal" >0</text>
<text x="224.90" y="333.2" font-size="8" fill="#2e2e2e">10<tspan dy="-3.2" font-size="5.2">3</tspan></text>
<text x="243.00" y="333.2" font-size="8" fill="#2e2e2e">10<tspan dy="-3.2" font-size="5.2">4</tspan></text>
<text x="259.10" y="333.2" font-size="8" fill="#2e2e2e">10<tspan dy="-3.2" font-size="5.2">5</tspan></text>
<path d="M196.9,321.0 L196.9,320.6 L200,316 L202.4,310.9 L205,304 L207,298 L209.7,285.3 L210.4,276 L211.3,275.5 L212.4,261.5 L213.4,252 L214.3,248.7 L215.5,250.5 L217.9,257.9 L219.8,268.8 L220.7,279.8 L222.9,301.7 L225.2,316.3 L228,320.6 L228,321.0 Z" fill="#b9c0dd" fill-opacity="0.9" stroke="#8e98c4" stroke-width="0.8"/>
<path d="M207,321.0 L207,320.6 L211,318 L214.3,314.5 L216.5,308 L217.9,301.7 L219.8,279.8 L221,268 L222.1,252.4 L223.4,244.2 L224.7,247.8 L225.6,244.5 L226.5,244.2 L228,257.9 L229.4,279.8 L231,292 L232.5,301.7 L234,310 L235.3,316.3 L238,320.6 L238,321.0 Z" fill="#5a6faa" fill-opacity="0.82" stroke="#233a76" stroke-width="0.9"/>
<rect x="179.2" y="233.3" width="87.9" height="87.7" fill="none" stroke="#1e1e1e" stroke-width="1.2"/>
<text x="193.90" y="248.00" font-size="8.3" text-anchor="middle" fill="#222">C<tspan dy="-2.6" font-size="6">*</tspan><tspan dy="2.6">04</tspan></text>
<line x1="198.40" y1="254.20" x2="209.70" y2="287.10" stroke="#222" stroke-width="0.9" />
<text x="250.40" y="248.00" font-size="8.3" text-anchor="middle" fill="#222">C<tspan dy="-2.6" font-size="6">*</tspan><tspan dy="2.6">02</tspan></text>
<line x1="238.90" y1="252.40" x2="229.80" y2="287.10" stroke="#222" stroke-width="0.9" />
<line x1="296.70" y1="321.00" x2="299.70" y2="321.00" stroke="#2e2e2e" stroke-width="1.0" />
<text x="294.70" y="323.90" font-size="8.3" text-anchor="end" fill="#2e2e2e" font-weight="normal" >0</text>
<line x1="298.00" y1="316.83" x2="299.70" y2="316.83" stroke="#2e2e2e" stroke-width="0.7" />
<line x1="298.00" y1="312.66" x2="299.70" y2="312.66" stroke="#2e2e2e" stroke-width="0.7" />
<line x1="298.00" y1="308.49" x2="299.70" y2="308.49" stroke="#2e2e2e" stroke-width="0.7" />
<line x1="296.70" y1="304.32" x2="299.70" y2="304.32" stroke="#2e2e2e" stroke-width="1.0" />
<text x="294.70" y="307.22" font-size="8.3" text-anchor="end" fill="#2e2e2e" font-weight="normal" >20</text>
<line x1="298.00" y1="300.15" x2="299.70" y2="300.15" stroke="#2e2e2e" stroke-width="0.7" />
<line x1="298.00" y1="295.98" x2="299.70" y2="295.98" stroke="#2e2e2e" stroke-width="0.7" />
<line x1="298.00" y1="291.81" x2="299.70" y2="291.81" stroke="#2e2e2e" stroke-width="0.7" />
<line x1="296.70" y1="287.64" x2="299.70" y2="287.64" stroke="#2e2e2e" stroke-width="1.0" />
<text x="294.70" y="290.54" font-size="8.3" text-anchor="end" fill="#2e2e2e" font-weight="normal" >40</text>
<line x1="298.00" y1="283.47" x2="299.70" y2="283.47" stroke="#2e2e2e" stroke-width="0.7" />
<line x1="298.00" y1="279.30" x2="299.70" y2="279.30" stroke="#2e2e2e" stroke-width="0.7" />
<line x1="298.00" y1="275.13" x2="299.70" y2="275.13" stroke="#2e2e2e" stroke-width="0.7" />
<line x1="296.70" y1="270.96" x2="299.70" y2="270.96" stroke="#2e2e2e" stroke-width="1.0" />
<text x="294.70" y="273.86" font-size="8.3" text-anchor="end" fill="#2e2e2e" font-weight="normal" >60</text>
<line x1="298.00" y1="266.79" x2="299.70" y2="266.79" stroke="#2e2e2e" stroke-width="0.7" />
<line x1="298.00" y1="262.62" x2="299.70" y2="262.62" stroke="#2e2e2e" stroke-width="0.7" />
<line x1="298.00" y1="258.45" x2="299.70" y2="258.45" stroke="#2e2e2e" stroke-width="0.7" />
<line x1="296.70" y1="254.28" x2="299.70" y2="254.28" stroke="#2e2e2e" stroke-width="1.0" />
<text x="294.70" y="257.18" font-size="8.3" text-anchor="end" fill="#2e2e2e" font-weight="normal" >80</text>
<line x1="298.00" y1="250.11" x2="299.70" y2="250.11" stroke="#2e2e2e" stroke-width="0.7" />
<line x1="298.00" y1="245.94" x2="299.70" y2="245.94" stroke="#2e2e2e" stroke-width="0.7" />
<line x1="298.00" y1="241.77" x2="299.70" y2="241.77" stroke="#2e2e2e" stroke-width="0.7" />
<line x1="296.70" y1="237.60" x2="299.70" y2="237.60" stroke="#2e2e2e" stroke-width="1.0" />
<text x="294.70" y="240.50" font-size="8.3" text-anchor="end" fill="#2e2e2e" font-weight="normal" >100</text>
<line x1="351.20" y1="321.00" x2="351.20" y2="323.80" stroke="#2e2e2e" stroke-width="0.9" />
<line x1="356.62" y1="321.00" x2="356.62" y2="322.60" stroke="#2e2e2e" stroke-width="0.6" />
<line x1="359.79" y1="321.00" x2="359.79" y2="322.60" stroke="#2e2e2e" stroke-width="0.6" />
<line x1="362.04" y1="321.00" x2="362.04" y2="322.60" stroke="#2e2e2e" stroke-width="0.6" />
<line x1="363.78" y1="321.00" x2="363.78" y2="322.60" stroke="#2e2e2e" stroke-width="0.6" />
<line x1="365.21" y1="321.00" x2="365.21" y2="322.60" stroke="#2e2e2e" stroke-width="0.6" />
<line x1="366.41" y1="321.00" x2="366.41" y2="322.60" stroke="#2e2e2e" stroke-width="0.6" />
<line x1="367.46" y1="321.00" x2="367.46" y2="322.60" stroke="#2e2e2e" stroke-width="0.6" />
<line x1="368.38" y1="321.00" x2="368.38" y2="322.60" stroke="#2e2e2e" stroke-width="0.6" />
<line x1="369.20" y1="321.00" x2="369.20" y2="323.80" stroke="#2e2e2e" stroke-width="0.9" />
<line x1="374.62" y1="321.00" x2="374.62" y2="322.60" stroke="#2e2e2e" stroke-width="0.6" />
<line x1="377.79" y1="321.00" x2="377.79" y2="322.60" stroke="#2e2e2e" stroke-width="0.6" />
<line x1="380.04" y1="321.00" x2="380.04" y2="322.60" stroke="#2e2e2e" stroke-width="0.6" />
<line x1="381.78" y1="321.00" x2="381.78" y2="322.60" stroke="#2e2e2e" stroke-width="0.6" />
<line x1="383.21" y1="321.00" x2="383.21" y2="322.60" stroke="#2e2e2e" stroke-width="0.6" />
<line x1="384.41" y1="321.00" x2="384.41" y2="322.60" stroke="#2e2e2e" stroke-width="0.6" />
<line x1="385.46" y1="321.00" x2="385.46" y2="322.60" stroke="#2e2e2e" stroke-width="0.6" />
<line x1="386.38" y1="321.00" x2="386.38" y2="322.60" stroke="#2e2e2e" stroke-width="0.6" />
<line x1="387.20" y1="321.00" x2="387.20" y2="323.80" stroke="#2e2e2e" stroke-width="0.9" />
<line x1="345.78" y1="321.00" x2="345.78" y2="322.60" stroke="#2e2e2e" stroke-width="0.6" />
<line x1="342.61" y1="321.00" x2="342.61" y2="322.60" stroke="#2e2e2e" stroke-width="0.6" />
<line x1="340.36" y1="321.00" x2="340.36" y2="322.60" stroke="#2e2e2e" stroke-width="0.6" />
<line x1="338.62" y1="321.00" x2="338.62" y2="322.60" stroke="#2e2e2e" stroke-width="0.6" />
<line x1="337.19" y1="321.00" x2="337.19" y2="322.60" stroke="#2e2e2e" stroke-width="0.6" />
<line x1="335.99" y1="321.00" x2="335.99" y2="322.60" stroke="#2e2e2e" stroke-width="0.6" />
<line x1="334.94" y1="321.00" x2="334.94" y2="322.60" stroke="#2e2e2e" stroke-width="0.6" />
<line x1="334.02" y1="321.00" x2="334.02" y2="322.60" stroke="#2e2e2e" stroke-width="0.6" />
<line x1="316.00" y1="321.00" x2="316.00" y2="322.60" stroke="#2e2e2e" stroke-width="0.6" />
<line x1="309.70" y1="321.00" x2="309.70" y2="322.60" stroke="#2e2e2e" stroke-width="0.6" />
<line x1="322.20" y1="321.00" x2="322.20" y2="322.60" stroke="#2e2e2e" stroke-width="0.6" />
<line x1="328.20" y1="321.00" x2="328.20" y2="322.60" stroke="#2e2e2e" stroke-width="0.6" />
<line x1="316.00" y1="321.00" x2="316.00" y2="323.80" stroke="#2e2e2e" stroke-width="0.9" />
<text x="316.00" y="333.20" font-size="8.0" text-anchor="middle" fill="#2e2e2e" font-weight="normal" >0</text>
<text x="345.40" y="333.2" font-size="8" fill="#2e2e2e">10<tspan dy="-3.2" font-size="5.2">3</tspan></text>
<text x="363.50" y="333.2" font-size="8" fill="#2e2e2e">10<tspan dy="-3.2" font-size="5.2">4</tspan></text>
<text x="379.60" y="333.2" font-size="8" fill="#2e2e2e">10<tspan dy="-3.2" font-size="5.2">5</tspan></text>
<path d="M318.7,321.0 L318.7,320.6 L323,318 L327.9,314.5 L331,309 L334.3,301.7 L337,292.6 L338.2,280 L338.8,268.8 L340.7,263.4 L341.8,255 L342.9,250.6 L344.3,265.2 L345.2,277 L346.2,288.9 L348.9,307.2 L351.6,318.2 L353,320.6 L353,321.0 Z" fill="#c9e5bc" fill-opacity="0.9" stroke="#a9d29b" stroke-width="0.8"/>
<path d="M337,321.0 L337,320.6 L339.5,317.5 L341.6,312.7 L343,304 L344.3,294.4 L345.3,278 L346.2,261.5 L347.6,243.3 L348.3,239.6 L349.1,243 L349.8,261.5 L350.7,279.8 L352.5,301.7 L354.4,316.3 L357,320.6 L357,321.0 Z" fill="#5cb84a" fill-opacity="0.85" stroke="#3d9a2d" stroke-width="0.9"/>
<rect x="299.7" y="233.1" width="89.1" height="87.9" fill="none" stroke="#1e1e1e" stroke-width="1.2"/>
<text x="319.20" y="255.30" font-size="8.3" text-anchor="middle" fill="#222">C<tspan dy="-2.6" font-size="6">*</tspan><tspan dy="2.6">03</tspan></text>
<line x1="325.10" y1="261.50" x2="337.00" y2="294.00" stroke="#222" stroke-width="0.9" />
<text x="366.70" y="256.80" font-size="8.3" text-anchor="middle" fill="#222">C<tspan dy="-2.6" font-size="6">*</tspan><tspan dy="2.6">07</tspan></text>
<line x1="363.50" y1="261.50" x2="352.00" y2="294.00" stroke="#222" stroke-width="0.9" />
<line x1="418.10" y1="321.00" x2="421.10" y2="321.00" stroke="#2e2e2e" stroke-width="1.0" />
<text x="416.10" y="323.90" font-size="8.3" text-anchor="end" fill="#2e2e2e" font-weight="normal" >0</text>
<line x1="419.40" y1="316.83" x2="421.10" y2="316.83" stroke="#2e2e2e" stroke-width="0.7" />
<line x1="419.40" y1="312.66" x2="421.10" y2="312.66" stroke="#2e2e2e" stroke-width="0.7" />
<line x1="419.40" y1="308.49" x2="421.10" y2="308.49" stroke="#2e2e2e" stroke-width="0.7" />
<line x1="418.10" y1="304.32" x2="421.10" y2="304.32" stroke="#2e2e2e" stroke-width="1.0" />
<text x="416.10" y="307.22" font-size="8.3" text-anchor="end" fill="#2e2e2e" font-weight="normal" >20</text>
<line x1="419.40" y1="300.15" x2="421.10" y2="300.15" stroke="#2e2e2e" stroke-width="0.7" />
<line x1="419.40" y1="295.98" x2="421.10" y2="295.98" stroke="#2e2e2e" stroke-width="0.7" />
<line x1="419.40" y1="291.81" x2="421.10" y2="291.81" stroke="#2e2e2e" stroke-width="0.7" />
<line x1="418.10" y1="287.64" x2="421.10" y2="287.64" stroke="#2e2e2e" stroke-width="1.0" />
<text x="416.10" y="290.54" font-size="8.3" text-anchor="end" fill="#2e2e2e" font-weight="normal" >40</text>
<line x1="419.40" y1="283.47" x2="421.10" y2="283.47" stroke="#2e2e2e" stroke-width="0.7" />
<line x1="419.40" y1="279.30" x2="421.10" y2="279.30" stroke="#2e2e2e" stroke-width="0.7" />
<line x1="419.40" y1="275.13" x2="421.10" y2="275.13" stroke="#2e2e2e" stroke-width="0.7" />
<line x1="418.10" y1="270.96" x2="421.10" y2="270.96" stroke="#2e2e2e" stroke-width="1.0" />
<text x="416.10" y="273.86" font-size="8.3" text-anchor="end" fill="#2e2e2e" font-weight="normal" >60</text>
<line x1="419.40" y1="266.79" x2="421.10" y2="266.79" stroke="#2e2e2e" stroke-width="0.7" />
<line x1="419.40" y1="262.62" x2="421.10" y2="262.62" stroke="#2e2e2e" stroke-width="0.7" />
<line x1="419.40" y1="258.45" x2="421.10" y2="258.45" stroke="#2e2e2e" stroke-width="0.7" />
<line x1="418.10" y1="254.28" x2="421.10" y2="254.28" stroke="#2e2e2e" stroke-width="1.0" />
<text x="416.10" y="257.18" font-size="8.3" text-anchor="end" fill="#2e2e2e" font-weight="normal" >80</text>
<line x1="419.40" y1="250.11" x2="421.10" y2="250.11" stroke="#2e2e2e" stroke-width="0.7" />
<line x1="419.40" y1="245.94" x2="421.10" y2="245.94" stroke="#2e2e2e" stroke-width="0.7" />
<line x1="419.40" y1="241.77" x2="421.10" y2="241.77" stroke="#2e2e2e" stroke-width="0.7" />
<line x1="418.10" y1="237.60" x2="421.10" y2="237.60" stroke="#2e2e2e" stroke-width="1.0" />
<text x="416.10" y="240.50" font-size="8.3" text-anchor="end" fill="#2e2e2e" font-weight="normal" >100</text>
<line x1="472.60" y1="321.00" x2="472.60" y2="323.80" stroke="#2e2e2e" stroke-width="0.9" />
<line x1="478.02" y1="321.00" x2="478.02" y2="322.60" stroke="#2e2e2e" stroke-width="0.6" />
<line x1="481.19" y1="321.00" x2="481.19" y2="322.60" stroke="#2e2e2e" stroke-width="0.6" />
<line x1="483.44" y1="321.00" x2="483.44" y2="322.60" stroke="#2e2e2e" stroke-width="0.6" />
<line x1="485.18" y1="321.00" x2="485.18" y2="322.60" stroke="#2e2e2e" stroke-width="0.6" />
<line x1="486.61" y1="321.00" x2="486.61" y2="322.60" stroke="#2e2e2e" stroke-width="0.6" />
<line x1="487.81" y1="321.00" x2="487.81" y2="322.60" stroke="#2e2e2e" stroke-width="0.6" />
<line x1="488.86" y1="321.00" x2="488.86" y2="322.60" stroke="#2e2e2e" stroke-width="0.6" />
<line x1="489.78" y1="321.00" x2="489.78" y2="322.60" stroke="#2e2e2e" stroke-width="0.6" />
<line x1="490.60" y1="321.00" x2="490.60" y2="323.80" stroke="#2e2e2e" stroke-width="0.9" />
<line x1="496.02" y1="321.00" x2="496.02" y2="322.60" stroke="#2e2e2e" stroke-width="0.6" />
<line x1="499.19" y1="321.00" x2="499.19" y2="322.60" stroke="#2e2e2e" stroke-width="0.6" />
<line x1="501.44" y1="321.00" x2="501.44" y2="322.60" stroke="#2e2e2e" stroke-width="0.6" />
<line x1="503.18" y1="321.00" x2="503.18" y2="322.60" stroke="#2e2e2e" stroke-width="0.6" />
<line x1="504.61" y1="321.00" x2="504.61" y2="322.60" stroke="#2e2e2e" stroke-width="0.6" />
<line x1="505.81" y1="321.00" x2="505.81" y2="322.60" stroke="#2e2e2e" stroke-width="0.6" />
<line x1="506.86" y1="321.00" x2="506.86" y2="322.60" stroke="#2e2e2e" stroke-width="0.6" />
<line x1="507.78" y1="321.00" x2="507.78" y2="322.60" stroke="#2e2e2e" stroke-width="0.6" />
<line x1="508.60" y1="321.00" x2="508.60" y2="323.80" stroke="#2e2e2e" stroke-width="0.9" />
<line x1="467.18" y1="321.00" x2="467.18" y2="322.60" stroke="#2e2e2e" stroke-width="0.6" />
<line x1="464.01" y1="321.00" x2="464.01" y2="322.60" stroke="#2e2e2e" stroke-width="0.6" />
<line x1="461.76" y1="321.00" x2="461.76" y2="322.60" stroke="#2e2e2e" stroke-width="0.6" />
<line x1="460.02" y1="321.00" x2="460.02" y2="322.60" stroke="#2e2e2e" stroke-width="0.6" />
<line x1="458.59" y1="321.00" x2="458.59" y2="322.60" stroke="#2e2e2e" stroke-width="0.6" />
<line x1="457.39" y1="321.00" x2="457.39" y2="322.60" stroke="#2e2e2e" stroke-width="0.6" />
<line x1="456.34" y1="321.00" x2="456.34" y2="322.60" stroke="#2e2e2e" stroke-width="0.6" />
<line x1="455.42" y1="321.00" x2="455.42" y2="322.60" stroke="#2e2e2e" stroke-width="0.6" />
<line x1="437.40" y1="321.00" x2="437.40" y2="322.60" stroke="#2e2e2e" stroke-width="0.6" />
<line x1="431.10" y1="321.00" x2="431.10" y2="322.60" stroke="#2e2e2e" stroke-width="0.6" />
<line x1="443.60" y1="321.00" x2="443.60" y2="322.60" stroke="#2e2e2e" stroke-width="0.6" />
<line x1="449.60" y1="321.00" x2="449.60" y2="322.60" stroke="#2e2e2e" stroke-width="0.6" />
<line x1="437.40" y1="321.00" x2="437.40" y2="323.80" stroke="#2e2e2e" stroke-width="0.9" />
<text x="437.40" y="333.20" font-size="8.0" text-anchor="middle" fill="#2e2e2e" font-weight="normal" >0</text>
<text x="466.80" y="333.2" font-size="8" fill="#2e2e2e">10<tspan dy="-3.2" font-size="5.2">3</tspan></text>
<text x="484.90" y="333.2" font-size="8" fill="#2e2e2e">10<tspan dy="-3.2" font-size="5.2">4</tspan></text>
<text x="501.00" y="333.2" font-size="8" fill="#2e2e2e">10<tspan dy="-3.2" font-size="5.2">5</tspan></text>
<path d="M428.9,321.0 L428.9,320.6 L432.5,314.5 L435.3,313.6 L438,308.1 L439.8,305.4 L441.7,306.3 L443.5,301.7 L446.2,293.5 L448.1,289.9 L450.8,288 L452.6,278 L454.5,269.8 L455.4,267 L456.3,256.1 L457.6,267 L459.4,267.9 L460.8,268.8 L462.7,279.8 L464.9,298.1 L467.2,312.7 L470,320.6 L470,321.0 Z" fill="#f3bcb1" fill-opacity="0.9" stroke="#e48b82" stroke-width="0.8"/>
<path d="M442.6,321.0 L442.6,320.6 L451.7,318.2 L455.5,315.5 L459,310.9 L461.5,305 L463.6,298.1 L466,279.8 L468.2,257.9 L470,250.2 L471.4,261.5 L473.3,279.8 L475.8,298.1 L478.7,312.7 L481.5,320.6 L481.5,321.0 Z" fill="#d9544f" fill-opacity="0.78" stroke="#c2182f" stroke-width="0.9"/>
<rect x="421.1" y="233.4" width="89.4" height="87.6" fill="none" stroke="#1e1e1e" stroke-width="1.2"/>
<text x="436.00" y="249.80" font-size="8.3" text-anchor="middle" fill="#222">Bw4</text>
<text x="436.00" y="259.10" font-size="8.3" text-anchor="middle" fill="#222">T80</text>
<line x1="435.60" y1="263.40" x2="447.10" y2="293.50" stroke="#222" stroke-width="0.9" />
<text x="492.50" y="249.80" font-size="8.3" text-anchor="middle" fill="#222">Bw4</text>
<text x="492.50" y="259.10" font-size="8.3" text-anchor="middle" fill="#222">I80</text>
<line x1="484.60" y1="261.50" x2="474.50" y2="296.20" stroke="#222" stroke-width="0.9" />
<text x="176.7" y="347.3" font-size="9.6" font-weight="bold" fill="#333" textLength="36" lengthAdjust="spacingAndGlyphs">Granzyme B</text>
<line x1="217.70" y1="344.60" x2="500.00" y2="344.60" stroke="#2e2e2e" stroke-width="1.1" />
<path d="M497,341.4 L505.6,344.6 L497,347.8 Z" fill="#222"/>
<text x="55.20" y="369.60" font-size="12.2" text-anchor="start" fill="#111" font-weight="bold" >F</text>
<line x1="94.50" y1="381.00" x2="94.50" y2="484.40" stroke="#2e2e2e" stroke-width="1.2" />
<line x1="91.50" y1="484.40" x2="94.50" y2="484.40" stroke="#2e2e2e" stroke-width="1.1" />
<text x="88.30" y="487.27" font-size="8.2" text-anchor="end" fill="#2e2e2e" font-weight="normal" >0</text>
<line x1="91.50" y1="467.50" x2="94.50" y2="467.50" stroke="#2e2e2e" stroke-width="1.1" />
<text x="88.30" y="470.37" font-size="8.2" text-anchor="end" fill="#2e2e2e" font-weight="normal" >1</text>
<line x1="91.50" y1="450.60" x2="94.50" y2="450.60" stroke="#2e2e2e" stroke-width="1.1" />
<text x="88.30" y="453.47" font-size="8.2" text-anchor="end" fill="#2e2e2e" font-weight="normal" >2</text>
<line x1="91.50" y1="433.70" x2="94.50" y2="433.70" stroke="#2e2e2e" stroke-width="1.1" />
<text x="88.30" y="436.57" font-size="8.2" text-anchor="end" fill="#2e2e2e" font-weight="normal" >3</text>
<line x1="91.50" y1="416.80" x2="94.50" y2="416.80" stroke="#2e2e2e" stroke-width="1.1" />
<text x="88.30" y="419.67" font-size="8.2" text-anchor="end" fill="#2e2e2e" font-weight="normal" >4</text>
<line x1="91.50" y1="399.90" x2="94.50" y2="399.90" stroke="#2e2e2e" stroke-width="1.1" />
<text x="88.30" y="402.77" font-size="8.2" text-anchor="end" fill="#2e2e2e" font-weight="normal" >5</text>
<line x1="91.50" y1="383.00" x2="94.50" y2="383.00" stroke="#2e2e2e" stroke-width="1.1" />
<text x="88.30" y="385.87" font-size="8.2" text-anchor="end" fill="#2e2e2e" font-weight="normal" >6</text>
<line x1="94.50" y1="484.40" x2="182.50" y2="484.40" stroke="#2e2e2e" stroke-width="1.2" />
<line x1="105.50" y1="484.40" x2="105.50" y2="487.60" stroke="#2e2e2e" stroke-width="1.1" />
<line x1="121.90" y1="484.40" x2="121.90" y2="487.60" stroke="#2e2e2e" stroke-width="1.1" />
<line x1="138.70" y1="484.40" x2="138.70" y2="487.60" stroke="#2e2e2e" stroke-width="1.1" />
<line x1="155.00" y1="484.40" x2="155.00" y2="487.60" stroke="#2e2e2e" stroke-width="1.1" />
<line x1="172.00" y1="484.40" x2="172.00" y2="487.60" stroke="#2e2e2e" stroke-width="1.1" />
<text x="0" y="0" font-size="10.0" text-anchor="middle" font-weight="bold" fill="#3c3c3c" textLength="82.4" lengthAdjust="spacingAndGlyphs" transform="translate(77.40,431.60) rotate(-90)">Granzyme B (MFI) 2DL3/nil</text>
<line x1="113.70" y1="381.00" x2="113.70" y2="484.40" stroke="#2a2a2a" stroke-width="0.9" stroke-dasharray="1.1,1.1"/>
<line x1="146.70" y1="381.00" x2="146.70" y2="484.40" stroke="#2a2a2a" stroke-width="0.9" stroke-dasharray="1.1,1.1"/>
<line x1="105.50" y1="436.30" x2="105.50" y2="457.00" stroke="#3a3a3a" stroke-width="1.0" />
<line x1="105.50" y1="463.00" x2="105.50" y2="469.30" stroke="#3a3a3a" stroke-width="1.0" />
<line x1="102.50" y1="436.30" x2="108.50" y2="436.30" stroke="#3a3a3a" stroke-width="1.1" />
<line x1="102.50" y1="469.30" x2="108.50" y2="469.30" stroke="#3a3a3a" stroke-width="1.1" />
<rect x="100.50" y="457.00" width="10.00" height="6.00" fill="#14589c" stroke="#0d4a86" stroke-width="0.7"/>
<line x1="100.50" y1="460.00" x2="110.50" y2="460.00" stroke="#0a2f57" stroke-width="1.6" />
<line x1="121.90" y1="395.90" x2="121.90" y2="439.30" stroke="#3a3a3a" stroke-width="1.0" />
<line x1="121.90" y1="454.70" x2="121.90" y2="463.40" stroke="#3a3a3a" stroke-width="1.0" />
<line x1="118.90" y1="395.90" x2="124.90" y2="395.90" stroke="#3a3a3a" stroke-width="1.1" />
<line x1="118.90" y1="463.40" x2="124.90" y2="463.40" stroke="#3a3a3a" stroke-width="1.1" />
<rect x="116.90" y="439.30" width="10.00" height="15.40" fill="#3aaa36" stroke="#2f9a2c" stroke-width="0.7"/>
<line x1="116.90" y1="448.80" x2="126.90" y2="448.80" stroke="#1b4d1a" stroke-width="1.6" />
<line x1="138.70" y1="383.20" x2="138.70" y2="442.00" stroke="#3a3a3a" stroke-width="1.0" />
<line x1="138.70" y1="456.80" x2="138.70" y2="466.40" stroke="#3a3a3a" stroke-width="1.0" />
<line x1="135.70" y1="383.20" x2="141.70" y2="383.20" stroke="#3a3a3a" stroke-width="1.1" />
<line x1="135.70" y1="466.40" x2="141.70" y2="466.40" stroke="#3a3a3a" stroke-width="1.1" />
<rect x="133.70" y="442.00" width="10.00" height="14.80" fill="#3aaa36" stroke="#2f9a2c" stroke-width="0.7"/>
<line x1="133.70" y1="452.00" x2="143.70" y2="452.00" stroke="#1b4d1a" stroke-width="1.6" />
<line x1="155.00" y1="391.70" x2="155.00" y2="440.00" stroke="#3a3a3a" stroke-width="1.0" />
<line x1="155.00" y1="455.10" x2="155.00" y2="462.00" stroke="#3a3a3a" stroke-width="1.0" />
<line x1="152.00" y1="391.70" x2="158.00" y2="391.70" stroke="#3a3a3a" stroke-width="1.1" />
<line x1="152.00" y1="462.00" x2="158.00" y2="462.00" stroke="#3a3a3a" stroke-width="1.1" />
<rect x="150.00" y="440.00" width="10.00" height="15.10" fill="#3aaa36" stroke="#2f9a2c" stroke-width="0.7"/>
<line x1="150.00" y1="448.40" x2="160.00" y2="448.40" stroke="#1b4d1a" stroke-width="1.6" />
<line x1="172.00" y1="383.20" x2="172.00" y2="448.40" stroke="#3a3a3a" stroke-width="1.0" />
<line x1="172.00" y1="457.90" x2="172.00" y2="467.00" stroke="#3a3a3a" stroke-width="1.0" />
<line x1="169.00" y1="383.20" x2="175.00" y2="383.20" stroke="#3a3a3a" stroke-width="1.1" />
<line x1="169.00" y1="467.00" x2="175.00" y2="467.00" stroke="#3a3a3a" stroke-width="1.1" />
<rect x="167.00" y="448.40" width="10.00" height="9.50" fill="#3aaa36" stroke="#2f9a2c" stroke-width="0.7"/>
<line x1="167.00" y1="454.30" x2="177.00" y2="454.30" stroke="#1b4d1a" stroke-width="1.6" />
<path d="M121.90,390.20 V372.60 H138.70 V378.60" fill="none" stroke="#3a3a3a" stroke-width="1.1"/>
<text x="130.30" y="372.92" font-size="9.6" text-anchor="middle" fill="#2e2e2e" font-weight="normal" >*</text>
<path d="M155.00,387.00 V372.60 H172.00 V378.60" fill="none" stroke="#3a3a3a" stroke-width="1.1"/>
<text x="163.50" y="372.92" font-size="9.6" text-anchor="middle" fill="#2e2e2e" font-weight="normal" >****</text>
<text x="0" y="0" font-size="8.4" text-anchor="end" fill="#2e2e2e"  transform="translate(109.10,495.70) rotate(-45)">All C2C2</text>
<text x="0" y="0" font-size="8.4" text-anchor="end" fill="#2e2e2e"  transform="translate(125.50,495.70) rotate(-45)">All C1C1</text>
<text x="0" y="0" font-size="8.4" text-anchor="end" fill="#2e2e2e"  transform="translate(142.30,495.70) rotate(-45)">All C1Cx</text>
<text x="0" y="0" font-size="8.4" text-anchor="end" fill="#2e2e2e"  transform="translate(158.60,495.70) rotate(-45)">C<tspan dy="-2.6" font-size="6">*</tspan><tspan dy="2.6">07</tspan></text>
<text x="0" y="0" font-size="8.4" text-anchor="end" fill="#2e2e2e"  transform="translate(175.60,495.70) rotate(-45)">No C<tspan dy="-2.6" font-size="6">*</tspan><tspan dy="2.6">07</tspan></text>
<line x1="223.00" y1="371.00" x2="223.00" y2="483.80" stroke="#2e2e2e" stroke-width="1.2" />
<line x1="220.00" y1="483.80" x2="223.00" y2="483.80" stroke="#2e2e2e" stroke-width="1.1" />
<text x="216.80" y="486.67" font-size="8.2" text-anchor="end" fill="#2e2e2e" font-weight="normal" >0</text>
<line x1="220.00" y1="465.33" x2="223.00" y2="465.33" stroke="#2e2e2e" stroke-width="1.1" />
<text x="216.80" y="468.20" font-size="8.2" text-anchor="end" fill="#2e2e2e" font-weight="normal" >1</text>
<line x1="220.00" y1="446.86" x2="223.00" y2="446.86" stroke="#2e2e2e" stroke-width="1.1" />
<text x="216.80" y="449.73" font-size="8.2" text-anchor="end" fill="#2e2e2e" font-weight="normal" >2</text>
<line x1="220.00" y1="428.39" x2="223.00" y2="428.39" stroke="#2e2e2e" stroke-width="1.1" />
<text x="216.80" y="431.26" font-size="8.2" text-anchor="end" fill="#2e2e2e" font-weight="normal" >3</text>
<line x1="220.00" y1="409.92" x2="223.00" y2="409.92" stroke="#2e2e2e" stroke-width="1.1" />
<text x="216.80" y="412.79" font-size="8.2" text-anchor="end" fill="#2e2e2e" font-weight="normal" >4</text>
<line x1="220.00" y1="391.45" x2="223.00" y2="391.45" stroke="#2e2e2e" stroke-width="1.1" />
<text x="216.80" y="394.32" font-size="8.2" text-anchor="end" fill="#2e2e2e" font-weight="normal" >5</text>
<line x1="220.00" y1="372.98" x2="223.00" y2="372.98" stroke="#2e2e2e" stroke-width="1.1" />
<text x="216.80" y="375.85" font-size="8.2" text-anchor="end" fill="#2e2e2e" font-weight="normal" >6</text>
<line x1="223.00" y1="483.80" x2="323.80" y2="483.80" stroke="#2e2e2e" stroke-width="1.2" />
<line x1="233.80" y1="483.80" x2="233.80" y2="487.00" stroke="#2e2e2e" stroke-width="1.1" />
<line x1="250.00" y1="483.80" x2="250.00" y2="487.00" stroke="#2e2e2e" stroke-width="1.1" />
<line x1="266.30" y1="483.80" x2="266.30" y2="487.00" stroke="#2e2e2e" stroke-width="1.1" />
<line x1="282.20" y1="483.80" x2="282.20" y2="487.00" stroke="#2e2e2e" stroke-width="1.1" />
<line x1="298.30" y1="483.80" x2="298.30" y2="487.00" stroke="#2e2e2e" stroke-width="1.1" />
<line x1="314.50" y1="483.80" x2="314.50" y2="487.00" stroke="#2e2e2e" stroke-width="1.1" />
<text x="0" y="0" font-size="10.0" text-anchor="middle" font-weight="bold" fill="#3c3c3c" textLength="83.6" lengthAdjust="spacingAndGlyphs" transform="translate(206.80,426.90) rotate(-90)">Granzyme B (MFI) 2DL3/nil</text>
<line x1="223.00" y1="457.50" x2="322.00" y2="457.50" stroke="#2a2a2a" stroke-width="0.9" stroke-dasharray="1.1,1.1"/>
<line x1="233.80" y1="431.30" x2="233.80" y2="453.80" stroke="#3a3a3a" stroke-width="1.0" />
<line x1="233.80" y1="460.50" x2="233.80" y2="467.50" stroke="#3a3a3a" stroke-width="1.0" />
<line x1="230.80" y1="431.30" x2="236.80" y2="431.30" stroke="#3a3a3a" stroke-width="1.1" />
<line x1="230.80" y1="467.50" x2="236.80" y2="467.50" stroke="#3a3a3a" stroke-width="1.1" />
<rect x="228.80" y="453.80" width="10.00" height="6.70" fill="#14589c" stroke="#0d4a86" stroke-width="0.7"/>
<line x1="228.80" y1="457.00" x2="238.80" y2="457.00" stroke="#0a2f57" stroke-width="1.6" />
<line x1="250.00" y1="387.00" x2="250.00" y2="433.00" stroke="#3a3a3a" stroke-width="1.0" />
<line x1="250.00" y1="450.50" x2="250.00" y2="458.00" stroke="#3a3a3a" stroke-width="1.0" />
<line x1="247.00" y1="387.00" x2="253.00" y2="387.00" stroke="#3a3a3a" stroke-width="1.1" />
<line x1="247.00" y1="458.00" x2="253.00" y2="458.00" stroke="#3a3a3a" stroke-width="1.1" />
<rect x="245.00" y="433.00" width="10.00" height="17.50" fill="#3aaa36" stroke="#2f9a2c" stroke-width="0.7"/>
<line x1="245.00" y1="441.30" x2="255.00" y2="441.30" stroke="#1b4d1a" stroke-width="1.6" />
<line x1="266.30" y1="428.00" x2="266.30" y2="438.30" stroke="#3a3a3a" stroke-width="1.0" />
<line x1="266.30" y1="448.00" x2="266.30" y2="453.80" stroke="#3a3a3a" stroke-width="1.0" />
<line x1="263.30" y1="428.00" x2="269.30" y2="428.00" stroke="#3a3a3a" stroke-width="1.1" />
<line x1="263.30" y1="453.80" x2="269.30" y2="453.80" stroke="#3a3a3a" stroke-width="1.1" />
<rect x="261.30" y="438.30" width="10.00" height="9.70" fill="#3aaa36" stroke="#2f9a2c" stroke-width="0.7"/>
<line x1="261.30" y1="447.00" x2="271.30" y2="447.00" stroke="#1b4d1a" stroke-width="1.6" />
<line x1="282.20" y1="400.00" x2="282.20" y2="436.30" stroke="#3a3a3a" stroke-width="1.0" />
<line x1="282.20" y1="452.50" x2="282.20" y2="460.80" stroke="#3a3a3a" stroke-width="1.0" />
<line x1="279.20" y1="400.00" x2="285.20" y2="400.00" stroke="#3a3a3a" stroke-width="1.1" />
<line x1="279.20" y1="460.80" x2="285.20" y2="460.80" stroke="#3a3a3a" stroke-width="1.1" />
<rect x="277.20" y="436.30" width="10.00" height="16.20" fill="#3aaa36" stroke="#2f9a2c" stroke-width="0.7"/>
<line x1="277.20" y1="448.30" x2="287.20" y2="448.30" stroke="#1b4d1a" stroke-width="1.6" />
<line x1="298.30" y1="419.50" x2="298.30" y2="438.30" stroke="#3a3a3a" stroke-width="1.0" />
<line x1="298.30" y1="455.50" x2="298.30" y2="457.50" stroke="#3a3a3a" stroke-width="1.0" />
<line x1="295.30" y1="419.50" x2="301.30" y2="419.50" stroke="#3a3a3a" stroke-width="1.1" />
<line x1="295.30" y1="457.50" x2="301.30" y2="457.50" stroke="#3a3a3a" stroke-width="1.1" />
<rect x="293.30" y="438.30" width="10.00" height="17.20" fill="#3aaa36" stroke="#2f9a2c" stroke-width="0.7"/>
<line x1="293.30" y1="452.00" x2="303.30" y2="452.00" stroke="#1b4d1a" stroke-width="1.6" />
<line x1="314.50" y1="448.30" x2="314.50" y2="450.50" stroke="#3a3a3a" stroke-width="1.0" />
<line x1="314.50" y1="453.80" x2="314.50" y2="455.80" stroke="#3a3a3a" stroke-width="1.0" />
<line x1="311.50" y1="448.30" x2="317.50" y2="448.30" stroke="#3a3a3a" stroke-width="1.1" />
<line x1="311.50" y1="455.80" x2="317.50" y2="455.80" stroke="#3a3a3a" stroke-width="1.1" />
<rect x="309.50" y="450.50" width="10.00" height="3.30" fill="#3aaa36" stroke="#2f9a2c" stroke-width="0.7"/>
<line x1="309.50" y1="452.50" x2="319.50" y2="452.50" stroke="#1b4d1a" stroke-width="1.6" />
<path d="M250.00,381.30 V377.00 H314.50 V443.80" fill="none" stroke="#3a3a3a" stroke-width="1.1"/>
<text x="282.25" y="376.22" font-size="9.6" text-anchor="middle" fill="#2e2e2e" font-weight="normal" >*</text>
<text x="0" y="0" font-size="8.4" text-anchor="end" fill="#2e2e2e"  transform="translate(237.40,495.10) rotate(-45)">All C2C2</text>
<text x="0" y="0" font-size="8.4" text-anchor="end" fill="#2e2e2e"  transform="translate(253.60,495.10) rotate(-45)">C<tspan dy="-2.6" font-size="6">*</tspan><tspan dy="2.6">07</tspan></text>
<text x="0" y="0" font-size="8.4" text-anchor="end" fill="#2e2e2e"  transform="translate(269.90,495.10) rotate(-45)">C<tspan dy="-2.6" font-size="6">*</tspan><tspan dy="2.6">16</tspan></text>
<text x="0" y="0" font-size="8.4" text-anchor="end" fill="#2e2e2e"  transform="translate(285.80,495.10) rotate(-45)">C<tspan dy="-2.6" font-size="6">*</tspan><tspan dy="2.6">03</tspan></text>
<text x="0" y="0" font-size="8.4" text-anchor="end" fill="#2e2e2e"  transform="translate(301.90,495.10) rotate(-45)">C<tspan dy="-2.6" font-size="6">*</tspan><tspan dy="2.6">12</tspan></text>
<text x="0" y="0" font-size="8.4" text-anchor="end" fill="#2e2e2e"  transform="translate(318.10,495.10) rotate(-45)">C<tspan dy="-2.6" font-size="6">*</tspan><tspan dy="2.6">01</tspan></text>
<text x="339.80" y="368.80" font-size="12.2" text-anchor="start" fill="#111" font-weight="bold" >G</text>
<line x1="380.50" y1="371.00" x2="380.50" y2="484.50" stroke="#2e2e2e" stroke-width="1.2" />
<line x1="377.50" y1="484.50" x2="380.50" y2="484.50" stroke="#2e2e2e" stroke-width="1.1" />
<text x="374.30" y="487.37" font-size="8.2" text-anchor="end" fill="#2e2e2e" font-weight="normal" >0</text>
<line x1="377.50" y1="468.50" x2="380.50" y2="468.50" stroke="#2e2e2e" stroke-width="1.1" />
<text x="374.30" y="471.37" font-size="8.2" text-anchor="end" fill="#2e2e2e" font-weight="normal" >1</text>
<line x1="377.50" y1="452.50" x2="380.50" y2="452.50" stroke="#2e2e2e" stroke-width="1.1" />
<text x="374.30" y="455.37" font-size="8.2" text-anchor="end" fill="#2e2e2e" font-weight="normal" >2</text>
<line x1="377.50" y1="436.50" x2="380.50" y2="436.50" stroke="#2e2e2e" stroke-width="1.1" />
<text x="374.30" y="439.37" font-size="8.2" text-anchor="end" fill="#2e2e2e" font-weight="normal" >3</text>
<line x1="377.50" y1="420.50" x2="380.50" y2="420.50" stroke="#2e2e2e" stroke-width="1.1" />
<text x="374.30" y="423.37" font-size="8.2" text-anchor="end" fill="#2e2e2e" font-weight="normal" >4</text>
<line x1="377.50" y1="404.50" x2="380.50" y2="404.50" stroke="#2e2e2e" stroke-width="1.1" />
<text x="374.30" y="407.37" font-size="8.2" text-anchor="end" fill="#2e2e2e" font-weight="normal" >5</text>
<line x1="377.50" y1="388.50" x2="380.50" y2="388.50" stroke="#2e2e2e" stroke-width="1.1" />
<text x="374.30" y="391.37" font-size="8.2" text-anchor="end" fill="#2e2e2e" font-weight="normal" >6</text>
<line x1="377.50" y1="372.50" x2="380.50" y2="372.50" stroke="#2e2e2e" stroke-width="1.1" />
<text x="374.30" y="375.37" font-size="8.2" text-anchor="end" fill="#2e2e2e" font-weight="normal" >7</text>
<line x1="380.50" y1="484.50" x2="463.80" y2="484.50" stroke="#2e2e2e" stroke-width="1.2" />
<line x1="390.00" y1="484.50" x2="390.00" y2="487.70" stroke="#2e2e2e" stroke-width="1.1" />
<line x1="404.50" y1="484.50" x2="404.50" y2="487.70" stroke="#2e2e2e" stroke-width="1.1" />
<line x1="418.80" y1="484.50" x2="418.80" y2="487.70" stroke="#2e2e2e" stroke-width="1.1" />
<line x1="432.80" y1="484.50" x2="432.80" y2="487.70" stroke="#2e2e2e" stroke-width="1.1" />
<line x1="447.00" y1="484.50" x2="447.00" y2="487.70" stroke="#2e2e2e" stroke-width="1.1" />
<line x1="461.30" y1="484.50" x2="461.30" y2="487.70" stroke="#2e2e2e" stroke-width="1.1" />
<text x="0" y="0" font-size="10.0" text-anchor="middle" font-weight="bold" fill="#3c3c3c" textLength="84.4" lengthAdjust="spacingAndGlyphs" transform="translate(364.20,427.30) rotate(-90)">Granzyme B (MFI) 2DL1/nil</text>
<line x1="380.50" y1="465.00" x2="466.00" y2="465.00" stroke="#2a2a2a" stroke-width="0.9" stroke-dasharray="1.1,1.1"/>
<line x1="390.00" y1="436.30" x2="390.00" y2="461.80" stroke="#3a3a3a" stroke-width="1.0" />
<line x1="390.00" y1="466.30" x2="390.00" y2="478.00" stroke="#3a3a3a" stroke-width="1.0" />
<line x1="387.00" y1="436.30" x2="393.00" y2="436.30" stroke="#3a3a3a" stroke-width="1.1" />
<line x1="387.00" y1="478.00" x2="393.00" y2="478.00" stroke="#3a3a3a" stroke-width="1.1" />
<rect x="385.50" y="461.80" width="9.00" height="4.50" fill="#3aaa36" stroke="#2f9a2c" stroke-width="0.7"/>
<line x1="385.50" y1="464.00" x2="394.50" y2="464.00" stroke="#1b4d1a" stroke-width="1.6" />
<line x1="404.50" y1="423.80" x2="404.50" y2="436.80" stroke="#3a3a3a" stroke-width="1.0" />
<line x1="404.50" y1="452.50" x2="404.50" y2="456.80" stroke="#3a3a3a" stroke-width="1.0" />
<line x1="401.50" y1="423.80" x2="407.50" y2="423.80" stroke="#3a3a3a" stroke-width="1.1" />
<line x1="401.50" y1="456.80" x2="407.50" y2="456.80" stroke="#3a3a3a" stroke-width="1.1" />
<rect x="400.00" y="436.80" width="9.00" height="15.70" fill="#14589c" stroke="#0d4a86" stroke-width="0.7"/>
<line x1="400.00" y1="446.30" x2="409.00" y2="446.30" stroke="#0a2f57" stroke-width="1.6" />
<line x1="418.80" y1="428.80" x2="418.80" y2="442.00" stroke="#3a3a3a" stroke-width="1.0" />
<line x1="418.80" y1="453.80" x2="418.80" y2="459.30" stroke="#3a3a3a" stroke-width="1.0" />
<line x1="415.80" y1="428.80" x2="421.80" y2="428.80" stroke="#3a3a3a" stroke-width="1.1" />
<line x1="415.80" y1="459.30" x2="421.80" y2="459.30" stroke="#3a3a3a" stroke-width="1.1" />
<rect x="414.30" y="442.00" width="9.00" height="11.80" fill="#14589c" stroke="#0d4a86" stroke-width="0.7"/>
<line x1="414.30" y1="448.00" x2="423.30" y2="448.00" stroke="#0a2f57" stroke-width="1.6" />
<line x1="432.80" y1="437.50" x2="432.80" y2="443.30" stroke="#3a3a3a" stroke-width="1.0" />
<line x1="432.80" y1="456.80" x2="432.80" y2="464.30" stroke="#3a3a3a" stroke-width="1.0" />
<line x1="429.80" y1="437.50" x2="435.80" y2="437.50" stroke="#3a3a3a" stroke-width="1.1" />
<line x1="429.80" y1="464.30" x2="435.80" y2="464.30" stroke="#3a3a3a" stroke-width="1.1" />
<rect x="428.30" y="443.30" width="9.00" height="13.50" fill="#14589c" stroke="#0d4a86" stroke-width="0.7"/>
<line x1="428.30" y1="450.00" x2="437.30" y2="450.00" stroke="#0a2f57" stroke-width="1.6" />
<line x1="447.00" y1="424.50" x2="447.00" y2="449.30" stroke="#3a3a3a" stroke-width="1.0" />
<line x1="447.00" y1="458.80" x2="447.00" y2="464.30" stroke="#3a3a3a" stroke-width="1.0" />
<line x1="444.00" y1="424.50" x2="450.00" y2="424.50" stroke="#3a3a3a" stroke-width="1.1" />
<line x1="444.00" y1="464.30" x2="450.00" y2="464.30" stroke="#3a3a3a" stroke-width="1.1" />
<rect x="442.50" y="449.30" width="9.00" height="9.50" fill="#14589c" stroke="#0d4a86" stroke-width="0.7"/>
<line x1="442.50" y1="453.80" x2="451.50" y2="453.80" stroke="#0a2f57" stroke-width="1.6" />
<line x1="461.30" y1="424.50" x2="461.30" y2="440.80" stroke="#3a3a3a" stroke-width="1.0" />
<line x1="461.30" y1="458.80" x2="461.30" y2="460.50" stroke="#3a3a3a" stroke-width="1.0" />
<line x1="458.30" y1="424.50" x2="464.30" y2="424.50" stroke="#3a3a3a" stroke-width="1.1" />
<line x1="458.30" y1="460.50" x2="464.30" y2="460.50" stroke="#3a3a3a" stroke-width="1.1" />
<rect x="456.80" y="440.80" width="9.00" height="18.00" fill="#14589c" stroke="#0d4a86" stroke-width="0.7"/>
<line x1="456.80" y1="454.30" x2="465.80" y2="454.30" stroke="#0a2f57" stroke-width="1.6" />
<path d="M404.00,419.50 V412.50 H461.60 V419.50" fill="none" stroke="#3a3a3a" stroke-width="1.1"/>
<text x="432.80" y="407.43" font-size="9.0" text-anchor="middle" fill="#2e2e2e" font-weight="normal" >ns</text>
<text x="0" y="0" font-size="8.4" text-anchor="end" fill="#2e2e2e"  transform="translate(393.60,495.80) rotate(-45)">All C1C1</text>
<text x="0" y="0" font-size="8.4" text-anchor="end" fill="#2e2e2e"  transform="translate(408.10,495.80) rotate(-45)">C<tspan dy="-2.6" font-size="6">*</tspan><tspan dy="2.6">02</tspan></text>
<text x="0" y="0" font-size="8.4" text-anchor="end" fill="#2e2e2e"  transform="translate(422.40,495.80) rotate(-45)">C<tspan dy="-2.6" font-size="6">*</tspan><tspan dy="2.6">04</tspan></text>
<text x="0" y="0" font-size="8.4" text-anchor="end" fill="#2e2e2e"  transform="translate(436.40,495.80) rotate(-45)">C<tspan dy="-2.6" font-size="6">*</tspan><tspan dy="2.6">15</tspan></text>
<text x="0" y="0" font-size="8.4" text-anchor="end" fill="#2e2e2e"  transform="translate(450.60,495.80) rotate(-45)">C<tspan dy="-2.6" font-size="6">*</tspan><tspan dy="2.6">05</tspan></text>
<text x="0" y="0" font-size="8.4" text-anchor="end" fill="#2e2e2e"  transform="translate(464.90,495.80) rotate(-45)">C<tspan dy="-2.6" font-size="6">*</tspan><tspan dy="2.6">06</tspan></text>
<text x="61.00" y="539.60" font-size="12.2" text-anchor="start" fill="#111" font-weight="bold" >H</text>
<line x1="102.80" y1="562.40" x2="102.80" y2="669.40" stroke="#2e2e2e" stroke-width="1.2" />
<line x1="99.80" y1="669.40" x2="102.80" y2="669.40" stroke="#2e2e2e" stroke-width="1.1" />
<text x="96.60" y="672.27" font-size="8.2" text-anchor="end" fill="#2e2e2e" font-weight="normal" >0</text>
<line x1="99.80" y1="634.40" x2="102.80" y2="634.40" stroke="#2e2e2e" stroke-width="1.1" />
<text x="96.60" y="637.27" font-size="8.2" text-anchor="end" fill="#2e2e2e" font-weight="normal" >1</text>
<line x1="99.80" y1="599.40" x2="102.80" y2="599.40" stroke="#2e2e2e" stroke-width="1.1" />
<text x="96.60" y="602.27" font-size="8.2" text-anchor="end" fill="#2e2e2e" font-weight="normal" >2</text>
<line x1="99.80" y1="564.40" x2="102.80" y2="564.40" stroke="#2e2e2e" stroke-width="1.1" />
<text x="96.60" y="567.27" font-size="8.2" text-anchor="end" fill="#2e2e2e" font-weight="normal" >3</text>
<line x1="102.80" y1="669.40" x2="278.80" y2="669.40" stroke="#2e2e2e" stroke-width="1.2" />
<line x1="113.80" y1="669.40" x2="113.80" y2="672.60" stroke="#2e2e2e" stroke-width="1.1" />
<line x1="129.37" y1="669.40" x2="129.37" y2="672.60" stroke="#2e2e2e" stroke-width="1.1" />
<line x1="144.94" y1="669.40" x2="144.94" y2="672.60" stroke="#2e2e2e" stroke-width="1.1" />
<line x1="160.51" y1="669.40" x2="160.51" y2="672.60" stroke="#2e2e2e" stroke-width="1.1" />
<line x1="176.08" y1="669.40" x2="176.08" y2="672.60" stroke="#2e2e2e" stroke-width="1.1" />
<line x1="191.65" y1="669.40" x2="191.65" y2="672.60" stroke="#2e2e2e" stroke-width="1.1" />
<line x1="207.22" y1="669.40" x2="207.22" y2="672.60" stroke="#2e2e2e" stroke-width="1.1" />
<line x1="222.79" y1="669.40" x2="222.79" y2="672.60" stroke="#2e2e2e" stroke-width="1.1" />
<line x1="238.36" y1="669.40" x2="238.36" y2="672.60" stroke="#2e2e2e" stroke-width="1.1" />
<line x1="253.93" y1="669.40" x2="253.93" y2="672.60" stroke="#2e2e2e" stroke-width="1.1" />
<line x1="269.50" y1="669.40" x2="269.50" y2="672.60" stroke="#2e2e2e" stroke-width="1.1" />
<text x="0" y="0" font-size="10.0" text-anchor="middle" font-weight="bold" fill="#3c3c3c" textLength="92.7" lengthAdjust="spacingAndGlyphs" transform="translate(87.20,615.70) rotate(-90)">Granzyme B (MFI) 2DL3/2DL1</text>
<line x1="102.80" y1="637.00" x2="279.50" y2="637.00" stroke="#2a2a2a" stroke-width="0.9" stroke-dasharray="1.1,1.1"/>
<line x1="113.80" y1="568.30" x2="113.80" y2="633.30" stroke="#3a3a3a" stroke-width="1.0" />
<line x1="113.80" y1="639.10" x2="113.80" y2="659.00" stroke="#3a3a3a" stroke-width="1.0" />
<line x1="110.80" y1="568.30" x2="116.80" y2="568.30" stroke="#3a3a3a" stroke-width="1.1" />
<line x1="110.80" y1="659.00" x2="116.80" y2="659.00" stroke="#3a3a3a" stroke-width="1.1" />
<rect x="109.40" y="633.30" width="8.80" height="5.80" fill="#c9c9c9" stroke="#b5b5b5" stroke-width="0.7"/>
<line x1="109.40" y1="636.60" x2="118.20" y2="636.60" stroke="#2a2a2a" stroke-width="1.5" />
<line x1="144.94" y1="632.50" x2="144.94" y2="637.00" stroke="#3a3a3a" stroke-width="1.0" />
<line x1="144.94" y1="646.30" x2="144.94" y2="656.00" stroke="#3a3a3a" stroke-width="1.0" />
<line x1="141.94" y1="632.50" x2="147.94" y2="632.50" stroke="#3a3a3a" stroke-width="1.1" />
<line x1="141.94" y1="656.00" x2="147.94" y2="656.00" stroke="#3a3a3a" stroke-width="1.1" />
<rect x="140.54" y="637.00" width="8.80" height="9.30" fill="#c9c9c9" stroke="#b5b5b5" stroke-width="0.7"/>
<line x1="140.54" y1="640.60" x2="149.34" y2="640.60" stroke="#2a2a2a" stroke-width="1.5" />
<line x1="160.51" y1="609.50" x2="160.51" y2="635.40" stroke="#3a3a3a" stroke-width="1.0" />
<line x1="160.51" y1="640.60" x2="160.51" y2="647.30" stroke="#3a3a3a" stroke-width="1.0" />
<line x1="157.51" y1="609.50" x2="163.51" y2="609.50" stroke="#3a3a3a" stroke-width="1.1" />
<line x1="157.51" y1="647.30" x2="163.51" y2="647.30" stroke="#3a3a3a" stroke-width="1.1" />
<rect x="156.11" y="635.40" width="8.80" height="5.20" fill="#c9c9c9" stroke="#b5b5b5" stroke-width="0.7"/>
<line x1="156.11" y1="638.70" x2="164.91" y2="638.70" stroke="#2a2a2a" stroke-width="1.5" />
<line x1="176.08" y1="568.80" x2="176.08" y2="630.00" stroke="#3a3a3a" stroke-width="1.0" />
<line x1="176.08" y1="639.60" x2="176.08" y2="640.00" stroke="#3a3a3a" stroke-width="1.0" />
<line x1="173.08" y1="568.80" x2="179.08" y2="568.80" stroke="#3a3a3a" stroke-width="1.1" />
<line x1="173.08" y1="640.00" x2="179.08" y2="640.00" stroke="#3a3a3a" stroke-width="1.1" />
<rect x="171.68" y="630.00" width="8.80" height="9.60" fill="#c9c9c9" stroke="#b5b5b5" stroke-width="0.7"/>
<line x1="171.68" y1="636.60" x2="180.48" y2="636.60" stroke="#2a2a2a" stroke-width="1.5" />
<line x1="191.65" y1="611.80" x2="191.65" y2="630.50" stroke="#3a3a3a" stroke-width="1.0" />
<line x1="191.65" y1="636.30" x2="191.65" y2="659.80" stroke="#3a3a3a" stroke-width="1.0" />
<line x1="188.65" y1="611.80" x2="194.65" y2="611.80" stroke="#3a3a3a" stroke-width="1.1" />
<line x1="188.65" y1="659.80" x2="194.65" y2="659.80" stroke="#3a3a3a" stroke-width="1.1" />
<rect x="187.25" y="630.50" width="8.80" height="5.80" fill="#c9c9c9" stroke="#b5b5b5" stroke-width="0.7"/>
<line x1="187.25" y1="635.50" x2="196.05" y2="635.50" stroke="#2a2a2a" stroke-width="1.5" />
<line x1="222.79" y1="620.80" x2="222.79" y2="633.80" stroke="#3a3a3a" stroke-width="1.0" />
<line x1="222.79" y1="638.00" x2="222.79" y2="646.30" stroke="#3a3a3a" stroke-width="1.0" />
<line x1="219.79" y1="620.80" x2="225.79" y2="620.80" stroke="#3a3a3a" stroke-width="1.1" />
<line x1="219.79" y1="646.30" x2="225.79" y2="646.30" stroke="#3a3a3a" stroke-width="1.1" />
<rect x="218.39" y="633.80" width="8.80" height="4.20" fill="#c9c9c9" stroke="#b5b5b5" stroke-width="0.7"/>
<line x1="218.39" y1="637.10" x2="227.19" y2="637.10" stroke="#2a2a2a" stroke-width="1.5" />
<line x1="238.36" y1="609.50" x2="238.36" y2="630.00" stroke="#3a3a3a" stroke-width="1.0" />
<line x1="238.36" y1="637.50" x2="238.36" y2="659.80" stroke="#3a3a3a" stroke-width="1.0" />
<line x1="235.36" y1="609.50" x2="241.36" y2="609.50" stroke="#3a3a3a" stroke-width="1.1" />
<line x1="235.36" y1="659.80" x2="241.36" y2="659.80" stroke="#3a3a3a" stroke-width="1.1" />
<rect x="233.96" y="630.00" width="8.80" height="7.50" fill="#c9c9c9" stroke="#b5b5b5" stroke-width="0.7"/>
<line x1="233.96" y1="636.50" x2="242.76" y2="636.50" stroke="#2a2a2a" stroke-width="1.5" />
<line x1="253.93" y1="611.80" x2="253.93" y2="627.00" stroke="#3a3a3a" stroke-width="1.0" />
<line x1="253.93" y1="638.00" x2="253.93" y2="647.30" stroke="#3a3a3a" stroke-width="1.0" />
<line x1="250.93" y1="611.80" x2="256.93" y2="611.80" stroke="#3a3a3a" stroke-width="1.1" />
<line x1="250.93" y1="647.30" x2="256.93" y2="647.30" stroke="#3a3a3a" stroke-width="1.1" />
<rect x="249.53" y="627.00" width="8.80" height="11.00" fill="#c9c9c9" stroke="#b5b5b5" stroke-width="0.7"/>
<line x1="249.53" y1="633.40" x2="258.33" y2="633.40" stroke="#2a2a2a" stroke-width="1.5" />
<line x1="269.50" y1="610.50" x2="269.50" y2="626.30" stroke="#3a3a3a" stroke-width="1.0" />
<line x1="269.50" y1="634.50" x2="269.50" y2="646.50" stroke="#3a3a3a" stroke-width="1.0" />
<line x1="266.50" y1="610.50" x2="272.50" y2="610.50" stroke="#3a3a3a" stroke-width="1.1" />
<line x1="266.50" y1="646.50" x2="272.50" y2="646.50" stroke="#3a3a3a" stroke-width="1.1" />
<rect x="265.10" y="626.30" width="8.80" height="8.20" fill="#c9c9c9" stroke="#b5b5b5" stroke-width="0.7"/>
<line x1="265.10" y1="633.00" x2="273.90" y2="633.00" stroke="#2a2a2a" stroke-width="1.5" />
<line x1="124.77" y1="646.00" x2="133.97" y2="646.00" stroke="#222" stroke-width="1.5" />
<line x1="207.22" y1="568.80" x2="207.22" y2="638.00" stroke="#3a3a3a" stroke-width="1.0" />
<line x1="207.22" y1="639.60" x2="207.22" y2="656.00" stroke="#3a3a3a" stroke-width="1.0" />
<line x1="204.22" y1="568.80" x2="210.22" y2="568.80" stroke="#3a3a3a" stroke-width="1.1" />
<line x1="204.22" y1="656.00" x2="210.22" y2="656.00" stroke="#3a3a3a" stroke-width="1.1" />
<rect x="202.82" y="638.00" width="8.80" height="1.60" fill="#c9c9c9" stroke="#b5b5b5" stroke-width="0.7"/>
<line x1="202.82" y1="638.80" x2="211.62" y2="638.80" stroke="#2a2a2a" stroke-width="1.5" />
<path d="M113.80,562.40 V557.20 H129.30 V640.50" fill="none" stroke="#3a3a3a" stroke-width="1.1"/>
<text x="121.55" y="553.76" font-size="8.0" text-anchor="middle" fill="#2e2e2e" font-weight="normal" >ns</text>
<path d="M113.80,543.50 V538.50 H269.50 V604.50" fill="none" stroke="#3a3a3a" stroke-width="1.1"/>
<text x="197.00" y="537.92" font-size="9.6" text-anchor="middle" fill="#2e2e2e" font-weight="normal" >**</text>
<text x="0" y="0" font-size="8.4" text-anchor="end" fill="#2e2e2e"  transform="translate(117.40,680.70) rotate(-45)">All C1C2</text>
<text x="0" y="0" font-size="8.4" text-anchor="end" fill="#2e2e2e"  transform="translate(132.97,680.70) rotate(-45)">C<tspan dy="-2.6" font-size="6">*</tspan><tspan dy="2.6">02</tspan></text>
<text x="0" y="0" font-size="8.4" text-anchor="end" fill="#2e2e2e"  transform="translate(148.54,680.70) rotate(-45)">C<tspan dy="-2.6" font-size="6">*</tspan><tspan dy="2.6">15</tspan></text>
<text x="0" y="0" font-size="8.4" text-anchor="end" fill="#2e2e2e"  transform="translate(164.11,680.70) rotate(-45)">C<tspan dy="-2.6" font-size="6">*</tspan><tspan dy="2.6">05</tspan></text>
<text x="0" y="0" font-size="8.4" text-anchor="end" fill="#2e2e2e"  transform="translate(179.68,680.70) rotate(-45)">C<tspan dy="-2.6" font-size="6">*</tspan><tspan dy="2.6">06</tspan></text>
<text x="0" y="0" font-size="8.4" text-anchor="end" fill="#2e2e2e"  transform="translate(195.25,680.70) rotate(-45)">C<tspan dy="-2.6" font-size="6">*</tspan><tspan dy="2.6">04</tspan></text>
<text x="0" y="0" font-size="8.4" text-anchor="end" fill="#2e2e2e"  transform="translate(210.82,680.70) rotate(-45)">C<tspan dy="-2.6" font-size="6">*</tspan><tspan dy="2.6">03</tspan></text>
<text x="0" y="0" font-size="8.4" text-anchor="end" fill="#2e2e2e"  transform="translate(226.39,680.70) rotate(-45)">C<tspan dy="-2.6" font-size="6">*</tspan><tspan dy="2.6">01</tspan></text>
<text x="0" y="0" font-size="8.4" text-anchor="end" fill="#2e2e2e"  transform="translate(241.96,680.70) rotate(-45)">C<tspan dy="-2.6" font-size="6">*</tspan><tspan dy="2.6">12</tspan></text>
<text x="0" y="0" font-size="8.4" text-anchor="end" fill="#2e2e2e"  transform="translate(257.53,680.70) rotate(-45)">C<tspan dy="-2.6" font-size="6">*</tspan><tspan dy="2.6">16</tspan></text>
<text x="0" y="0" font-size="8.4" text-anchor="end" fill="#2e2e2e"  transform="translate(273.10,680.70) rotate(-45)">C<tspan dy="-2.6" font-size="6">*</tspan><tspan dy="2.6">07</tspan></text>
<line x1="116.60" y1="697.30" x2="189.40" y2="697.30" stroke="#2e2e2e" stroke-width="1.1" />
<line x1="196.50" y1="697.30" x2="268.00" y2="697.30" stroke="#2e2e2e" stroke-width="1.1" />
<text x="152.8" y="709.0" font-size="8.2" text-anchor="middle" fill="#2e2e2e">No C<tspan dy="-2.6" font-size="6">*</tspan><tspan dy="2.6">07 donors</tspan></text>
<text x="231.5" y="709.0" font-size="8.2" text-anchor="middle" fill="#2e2e2e">No C<tspan dy="-2.6" font-size="6">*</tspan><tspan dy="2.6">02 donors</tspan></text>
<text x="345.20" y="539.60" font-size="12.2" text-anchor="start" fill="#111" font-weight="bold" >I</text>
<line x1="385.80" y1="579.60" x2="385.80" y2="670.30" stroke="#2e2e2e" stroke-width="1.2" />
<line x1="382.80" y1="670.30" x2="385.80" y2="670.30" stroke="#2e2e2e" stroke-width="1.1" />
<text x="379.60" y="673.17" font-size="8.2" text-anchor="end" fill="#2e2e2e" font-weight="normal" >0</text>
<line x1="382.80" y1="652.20" x2="385.80" y2="652.20" stroke="#2e2e2e" stroke-width="1.1" />
<text x="379.60" y="655.07" font-size="8.2" text-anchor="end" fill="#2e2e2e" font-weight="normal" >1</text>
<line x1="382.80" y1="634.10" x2="385.80" y2="634.10" stroke="#2e2e2e" stroke-width="1.1" />
<text x="379.60" y="636.97" font-size="8.2" text-anchor="end" fill="#2e2e2e" font-weight="normal" >2</text>
<line x1="382.80" y1="616.00" x2="385.80" y2="616.00" stroke="#2e2e2e" stroke-width="1.1" />
<text x="379.60" y="618.87" font-size="8.2" text-anchor="end" fill="#2e2e2e" font-weight="normal" >3</text>
<line x1="382.80" y1="597.90" x2="385.80" y2="597.90" stroke="#2e2e2e" stroke-width="1.1" />
<text x="379.60" y="600.77" font-size="8.2" text-anchor="end" fill="#2e2e2e" font-weight="normal" >4</text>
<line x1="382.80" y1="579.80" x2="385.80" y2="579.80" stroke="#2e2e2e" stroke-width="1.1" />
<text x="379.60" y="582.67" font-size="8.2" text-anchor="end" fill="#2e2e2e" font-weight="normal" >5</text>
<line x1="383.00" y1="579.60" x2="388.60" y2="579.60" stroke="#2e2e2e" stroke-width="1.1" />
<line x1="385.80" y1="562.40" x2="385.80" y2="570.80" stroke="#2e2e2e" stroke-width="1.2" />
<line x1="383.00" y1="564.40" x2="385.80" y2="564.40" stroke="#2e2e2e" stroke-width="0.9" />
<line x1="383.00" y1="570.80" x2="388.60" y2="570.80" stroke="#2e2e2e" stroke-width="1.1" />
<text x="380.80" y="567.40" font-size="8.8" text-anchor="end" fill="#2e2e2e" font-weight="normal" >11.5</text>
<text x="380.80" y="573.90" font-size="8.8" text-anchor="end" fill="#2e2e2e" font-weight="normal" >11.0</text>
<line x1="385.80" y1="670.30" x2="456.70" y2="670.30" stroke="#2e2e2e" stroke-width="1.2" />
<line x1="398.00" y1="670.30" x2="398.00" y2="673.50" stroke="#2e2e2e" stroke-width="1.1" />
<line x1="416.10" y1="670.30" x2="416.10" y2="673.50" stroke="#2e2e2e" stroke-width="1.1" />
<line x1="434.50" y1="670.30" x2="434.50" y2="673.50" stroke="#2e2e2e" stroke-width="1.1" />
<line x1="453.60" y1="670.30" x2="453.60" y2="673.50" stroke="#2e2e2e" stroke-width="1.1" />
<text x="0" y="0" font-size="10.0" text-anchor="middle" font-weight="bold" fill="#3c3c3c" textLength="82.4" lengthAdjust="spacingAndGlyphs" transform="translate(357.60,615.90) rotate(-90)">Granzyme B (MFI) 3DL1/nil</text>
<line x1="385.80" y1="644.80" x2="459.50" y2="644.80" stroke="#2a2a2a" stroke-width="0.9" stroke-dasharray="1.1,1.1"/>
<line x1="398.00" y1="616.50" x2="398.00" y2="639.90" stroke="#3a3a3a" stroke-width="1.0" />
<line x1="398.00" y1="646.90" x2="398.00" y2="655.10" stroke="#3a3a3a" stroke-width="1.0" />
<line x1="395.00" y1="616.50" x2="401.00" y2="616.50" stroke="#3a3a3a" stroke-width="1.1" />
<line x1="395.00" y1="655.10" x2="401.00" y2="655.10" stroke="#3a3a3a" stroke-width="1.1" />
<rect x="392.40" y="639.90" width="11.20" height="7.00" fill="#e8968c" stroke="#d9837a" stroke-width="0.7"/>
<line x1="392.40" y1="644.40" x2="403.60" y2="644.40" stroke="#b55a50" stroke-width="1.6" />
<line x1="416.10" y1="593.10" x2="416.10" y2="625.90" stroke="#3a3a3a" stroke-width="1.0" />
<line x1="416.10" y1="638.50" x2="416.10" y2="647.80" stroke="#3a3a3a" stroke-width="1.0" />
<line x1="413.10" y1="593.10" x2="419.10" y2="593.10" stroke="#3a3a3a" stroke-width="1.1" />
<line x1="413.10" y1="647.80" x2="419.10" y2="647.80" stroke="#3a3a3a" stroke-width="1.1" />
<rect x="410.50" y="625.90" width="11.20" height="12.60" fill="#c8102e" stroke="#b00e28" stroke-width="0.7"/>
<line x1="410.50" y1="630.70" x2="421.70" y2="630.70" stroke="#4a0010" stroke-width="1.6" />
<line x1="434.50" y1="580.60" x2="434.50" y2="629.50" stroke="#3a3a3a" stroke-width="1.0" />
<line x1="434.50" y1="642.80" x2="434.50" y2="653.20" stroke="#3a3a3a" stroke-width="1.0" />
<line x1="431.50" y1="653.20" x2="437.50" y2="653.20" stroke="#3a3a3a" stroke-width="1.1" />
<rect x="428.90" y="629.50" width="11.20" height="13.30" fill="#c8102e" stroke="#b00e28" stroke-width="0.7"/>
<line x1="428.90" y1="638.60" x2="440.10" y2="638.60" stroke="#4a0010" stroke-width="1.6" />
<line x1="434.50" y1="568.30" x2="434.50" y2="571.50" stroke="#3a3a3a" stroke-width="1.0" />
<line x1="431.50" y1="568.30" x2="437.50" y2="568.30" stroke="#3a3a3a" stroke-width="1.1" />
<line x1="453.60" y1="593.80" x2="453.60" y2="628.90" stroke="#3a3a3a" stroke-width="1.0" />
<line x1="453.60" y1="643.30" x2="453.60" y2="649.20" stroke="#3a3a3a" stroke-width="1.0" />
<line x1="450.60" y1="593.80" x2="456.60" y2="593.80" stroke="#3a3a3a" stroke-width="1.1" />
<line x1="450.60" y1="649.20" x2="456.60" y2="649.20" stroke="#3a3a3a" stroke-width="1.1" />
<rect x="448.00" y="628.90" width="11.20" height="14.40" fill="#c8102e" stroke="#b00e28" stroke-width="0.7"/>
<line x1="448.00" y1="638.60" x2="459.20" y2="638.60" stroke="#4a0010" stroke-width="1.6" />
<path d="M416.10,586.80 V555.50 H434.80 V562.50" fill="none" stroke="#3a3a3a" stroke-width="1.1"/>
<text x="425.45" y="555.42" font-size="9.6" text-anchor="middle" fill="#2e2e2e" font-weight="normal" >*</text>
<text x="0" y="0" font-size="8.4" text-anchor="end" fill="#2e2e2e"  transform="translate(401.60,681.60) rotate(-45)">BW4<tspan dy="-3" font-size="5.5">−</tspan></text>
<text x="0" y="0" font-size="8.4" text-anchor="end" fill="#2e2e2e"  transform="translate(419.70,681.60) rotate(-45)">I80<tspan dy="-3" font-size="5.5">+</tspan></text>
<text x="0" y="0" font-size="8.4" text-anchor="end" fill="#2e2e2e"  transform="translate(438.10,681.60) rotate(-45)">T80<tspan dy="-3" font-size="5.5">+</tspan></text>
<text x="0" y="0" font-size="8.4" text-anchor="end" fill="#2e2e2e"  transform="translate(457.20,681.60) rotate(-45)">A-Bw4</text></svg>
</body></html>
